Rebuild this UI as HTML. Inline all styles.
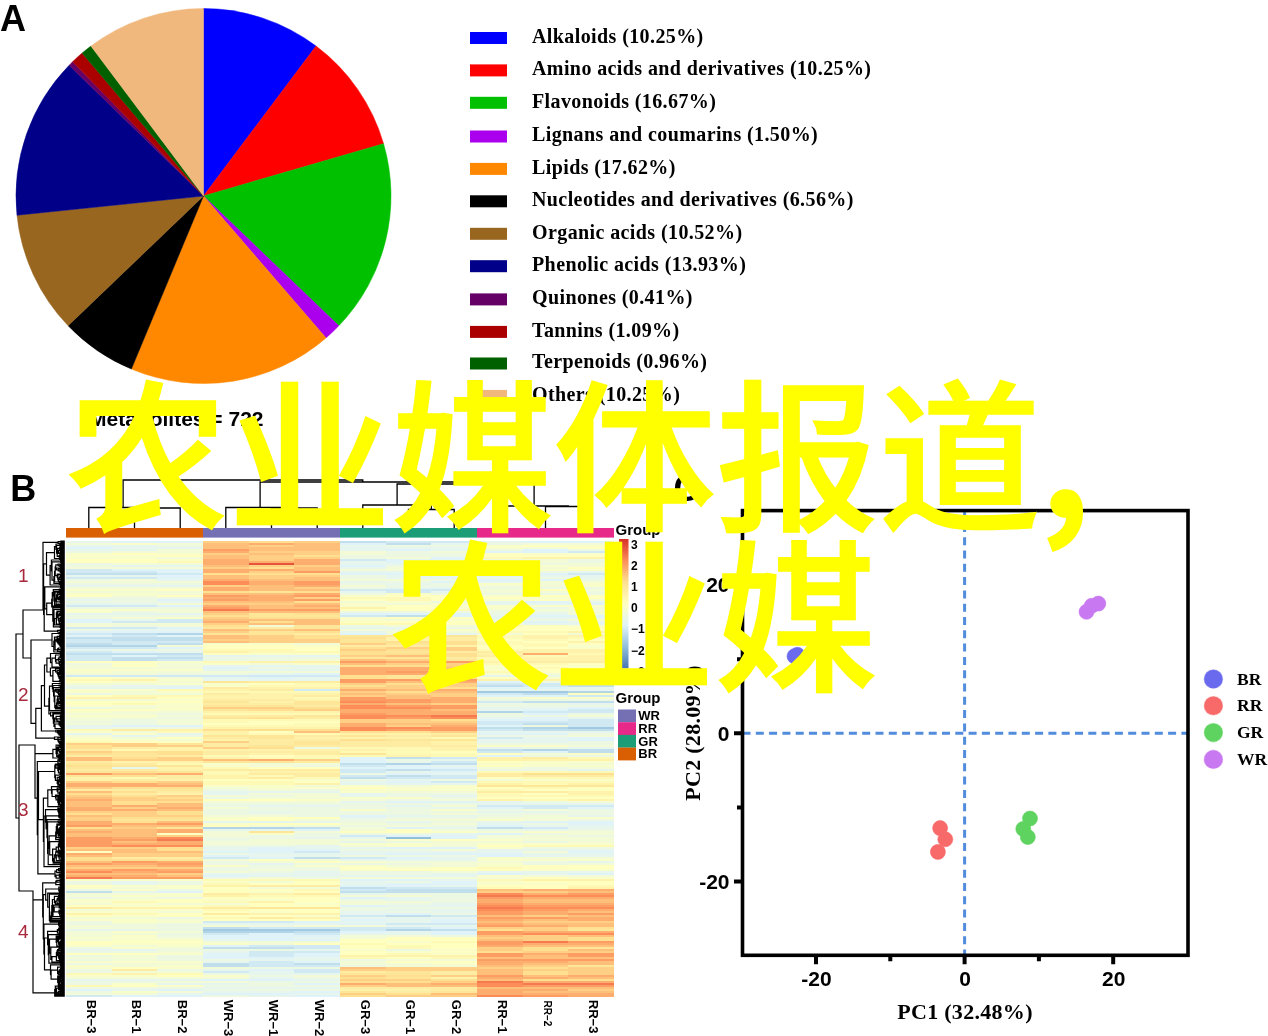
<!DOCTYPE html>
<html lang="zh"><head><meta charset="utf-8"><title>Figure</title>
<style>
html,body{margin:0;padding:0;background:#fff;}
body{width:1268px;height:1036px;overflow:hidden;position:relative;font-family:"Liberation Sans","Noto Sans CJK SC",sans-serif;}
svg{position:absolute;left:0;top:0;display:block}
.ab{font-family:"Liberation Sans",sans-serif;font-weight:bold}
.tb{font-family:"Liberation Serif",serif;font-weight:bold}
.ov{position:absolute;margin:0;white-space:nowrap;color:#ffff00;font-family:"Liberation Sans","Noto Sans CJK SC",sans-serif;font-weight:500;font-size:162.5px;line-height:160px;letter-spacing:0;-webkit-text-stroke:1.5px #ffff00}
.ov span{position:absolute;font-family:"Noto Sans CJK SC","Liberation Sans",sans-serif;font-weight:700;font-size:155px;line-height:155px}
</style></head><body>
<svg width="1268" height="1036" viewBox="0 0 1268 1036">
<rect width="1268" height="1036" fill="#fff"/>

<g id="pie">
<path d="M203.5 196L203.50 8.50A187.5 187.5 0 0 1 316.07 46.05Z" fill="#0000ff" stroke="#0000ff" stroke-width="0.5"/>
<path d="M203.5 196L316.07 46.05A187.5 187.5 0 0 1 383.55 143.67Z" fill="#ff0000" stroke="#ff0000" stroke-width="0.5"/>
<path d="M203.5 196L383.55 143.67A187.5 187.5 0 0 1 338.83 325.77Z" fill="#00c000" stroke="#00c000" stroke-width="0.5"/>
<path d="M203.5 196L338.83 325.77A187.5 187.5 0 0 1 326.02 337.93Z" fill="#aa00ee" stroke="#aa00ee" stroke-width="0.5"/>
<path d="M203.5 196L326.02 337.93A187.5 187.5 0 0 1 131.37 369.07Z" fill="#ff8800" stroke="#ff8800" stroke-width="0.5"/>
<path d="M203.5 196L131.37 369.07A187.5 187.5 0 0 1 68.09 325.69Z" fill="#000000" stroke="#000000" stroke-width="0.5"/>
<path d="M203.5 196L68.09 325.69A187.5 187.5 0 0 1 16.99 215.26Z" fill="#996620" stroke="#996620" stroke-width="0.5"/>
<path d="M203.5 196L16.99 215.26A187.5 187.5 0 0 1 69.19 65.17Z" fill="#000088" stroke="#000088" stroke-width="0.5"/>
<path d="M203.5 196L69.19 65.17A187.5 187.5 0 0 1 72.60 61.75Z" fill="#660066" stroke="#660066" stroke-width="0.5"/>
<path d="M203.5 196L72.60 61.75A187.5 187.5 0 0 1 82.10 53.11Z" fill="#aa0000" stroke="#aa0000" stroke-width="0.5"/>
<path d="M203.5 196L82.10 53.11A187.5 187.5 0 0 1 90.93 46.05Z" fill="#006000" stroke="#006000" stroke-width="0.5"/>
<path d="M203.5 196L90.93 46.05A187.5 187.5 0 0 1 203.50 8.50Z" fill="#f0b87c" stroke="#f0b87c" stroke-width="0.5"/>
</g>
<g id="pielegend" class="tb" font-size="20" fill="#000">
<rect x="470" y="32.0" width="37" height="12" fill="#0000ff"/>
<text x="532" y="42.7" letter-spacing="0.4">Alkaloids (10.25%)</text>
<rect x="470" y="64.4" width="37" height="12" fill="#ff0000"/>
<text x="532" y="75.1" letter-spacing="0.4">Amino acids and derivatives (10.25%)</text>
<rect x="470" y="96.8" width="37" height="12" fill="#00c000"/>
<text x="532" y="107.5" letter-spacing="0.4">Flavonoids (16.67%)</text>
<rect x="470" y="130.5" width="37" height="12" fill="#aa00ee"/>
<text x="532" y="141.2" letter-spacing="0.4">Lignans and coumarins (1.50%)</text>
<rect x="470" y="162.9" width="37" height="12" fill="#ff8800"/>
<text x="532" y="173.6" letter-spacing="0.4">Lipids (17.62%)</text>
<rect x="470" y="195.3" width="37" height="12" fill="#000000"/>
<text x="532" y="206.0" letter-spacing="0.4">Nucleotides and derivatives (6.56%)</text>
<rect x="470" y="227.8" width="37" height="12" fill="#996620"/>
<text x="532" y="238.5" letter-spacing="0.4">Organic acids (10.52%)</text>
<rect x="470" y="260.2" width="37" height="12" fill="#000088"/>
<text x="532" y="270.9" letter-spacing="0.4">Phenolic acids (13.93%)</text>
<rect x="470" y="293.4" width="37" height="12" fill="#660066"/>
<text x="532" y="304.1" letter-spacing="0.4">Quinones (0.41%)</text>
<rect x="470" y="325.9" width="37" height="12" fill="#aa0000"/>
<text x="532" y="336.6" letter-spacing="0.4">Tannins (1.09%)</text>
<rect x="470" y="357.5" width="37" height="12" fill="#006000"/>
<text x="532" y="368.2" letter-spacing="0.4">Terpenoids (0.96%)</text>
<rect x="470" y="389.9" width="37" height="12" fill="#f0b87c"/>
<text x="532" y="400.6" letter-spacing="0.4">Others (10.25%)</text>
</g>
<text class="ab" x="0" y="31" font-size="36">A</text>
<text class="ab" x="10.3" y="501" font-size="36">B</text>
<text class="ab" x="673.5" y="501" font-size="36">C</text>
<text class="ab" x="89" y="425.6" font-size="21">Metabolites = 722</text>
<g id="heat" shape-rendering="crispEdges">
<rect x="66.0" y="540.5" width="548.0" height="456.1" fill="#ffffc8"/>
<path fill="#e6f5ed" d="M66.0 540.5h45.7v2.05h-45.7zM477.0 540.5h45.7v2.05h-45.7zM431.3 542.5h45.7v2.05h-45.7zM66.0 544.5h45.7v2.05h-45.7zM111.7 544.5h45.7v2.05h-45.7zM340.0 544.5h45.7v2.05h-45.7zM111.7 546.5h45.7v2.05h-45.7zM157.3 546.5h45.7v2.05h-45.7zM340.0 546.5h45.7v2.05h-45.7zM385.7 546.5h45.7v2.05h-45.7zM431.3 546.5h45.7v2.05h-45.7zM66.0 548.5h45.7v2.05h-45.7zM111.7 548.5h45.7v2.05h-45.7zM340.0 548.5h45.7v2.05h-45.7zM431.3 548.5h45.7v2.05h-45.7zM340.0 560.5h45.7v2.05h-45.7zM431.3 560.5h45.7v2.05h-45.7zM340.0 562.5h45.7v2.05h-45.7zM385.7 562.5h45.7v2.05h-45.7zM111.7 564.5h45.7v2.05h-45.7zM157.3 564.5h45.7v2.05h-45.7zM431.3 564.5h45.7v2.05h-45.7zM340.0 566.5h45.7v2.05h-45.7zM340.0 570.5h45.7v2.05h-45.7zM385.7 570.5h45.7v2.05h-45.7zM477.0 570.5h45.7v2.05h-45.7zM568.3 570.5h45.7v2.05h-45.7zM477.0 572.5h45.7v2.05h-45.7zM66.0 574.5h45.7v2.05h-45.7zM111.7 574.5h45.7v2.05h-45.7zM385.7 574.5h45.7v2.05h-45.7zM431.3 574.5h45.7v2.05h-45.7zM522.7 574.5h45.7v2.05h-45.7zM568.3 574.5h45.7v2.05h-45.7zM385.7 576.5h45.7v2.05h-45.7zM431.3 576.5h45.7v2.05h-45.7zM568.3 576.5h45.7v2.05h-45.7zM157.3 578.5h45.7v2.05h-45.7zM340.0 580.5h45.7v2.05h-45.7zM477.0 580.5h45.7v2.05h-45.7zM385.7 582.5h45.7v2.05h-45.7zM66.0 584.5h45.7v2.05h-45.7zM111.7 584.5h45.7v2.05h-45.7zM157.3 584.5h45.7v2.05h-45.7zM385.7 586.5h45.7v2.05h-45.7zM431.3 586.5h45.7v2.05h-45.7zM340.0 590.5h45.7v2.05h-45.7zM431.3 590.5h45.7v2.05h-45.7zM66.0 598.5h45.7v2.05h-45.7zM157.3 600.5h45.7v2.05h-45.7zM477.0 600.5h45.7v2.05h-45.7zM568.3 600.5h45.7v2.05h-45.7zM66.0 602.5h45.7v2.05h-45.7zM111.7 602.5h45.7v2.05h-45.7zM477.0 602.5h45.7v2.05h-45.7zM522.7 602.5h45.7v2.05h-45.7zM66.0 612.5h45.7v2.05h-45.7zM111.7 612.5h45.7v2.05h-45.7zM157.3 612.5h45.7v2.05h-45.7zM522.7 612.5h45.7v2.05h-45.7zM477.0 614.5h45.7v2.05h-45.7zM477.0 616.5h45.7v2.05h-45.7zM522.7 616.5h45.7v2.05h-45.7zM568.3 616.5h45.7v2.05h-45.7zM111.7 618.5h45.7v2.05h-45.7zM477.0 620.5h45.7v2.05h-45.7zM568.3 620.5h45.7v2.05h-45.7zM522.7 622.5h45.7v2.05h-45.7zM568.3 622.5h45.7v2.05h-45.7zM340.0 626.5h45.7v2.05h-45.7zM385.7 626.5h45.7v2.05h-45.7zM111.7 628.5h45.7v2.05h-45.7zM157.3 628.5h45.7v2.05h-45.7zM340.0 630.5h45.7v2.05h-45.7zM431.3 632.5h45.7v2.05h-45.7zM66.0 648.5h45.7v2.05h-45.7zM157.3 650.5h45.7v2.05h-45.7zM203.0 654.5h45.7v2.05h-45.7zM248.7 654.5h45.7v2.05h-45.7zM294.3 654.5h45.7v2.05h-45.7zM203.0 664.5h45.7v2.05h-45.7zM248.7 664.5h45.7v2.05h-45.7zM294.3 664.5h45.7v2.05h-45.7zM294.3 666.5h45.7v2.05h-45.7zM203.0 668.5h45.7v2.05h-45.7zM248.7 668.5h45.7v2.05h-45.7zM294.3 668.5h45.7v2.05h-45.7zM248.7 672.5h45.7v2.05h-45.7zM477.0 674.5h45.7v2.05h-45.7zM568.3 674.5h45.7v2.05h-45.7zM203.0 676.5h45.7v2.05h-45.7zM294.3 676.5h45.7v2.05h-45.7zM203.0 678.5h45.7v2.05h-45.7zM248.7 678.5h45.7v2.05h-45.7zM294.3 678.5h45.7v2.05h-45.7zM111.7 684.5h45.7v2.05h-45.7zM157.3 684.5h45.7v2.05h-45.7zM66.0 686.5h45.7v2.05h-45.7zM111.7 686.5h45.7v2.05h-45.7zM568.3 686.5h45.7v2.05h-45.7zM477.0 688.5h45.7v2.05h-45.7zM522.7 688.5h45.7v2.05h-45.7zM568.3 688.5h45.7v2.05h-45.7zM568.3 702.5h45.7v2.05h-45.7zM477.0 706.5h45.7v2.05h-45.7zM522.7 706.5h45.7v2.05h-45.7zM477.0 708.5h45.7v2.05h-45.7zM477.0 716.5h45.7v2.05h-45.7zM568.3 716.5h45.7v2.05h-45.7zM66.0 724.5h45.7v2.05h-45.7zM66.0 726.5h45.7v2.05h-45.7zM477.0 730.5h45.7v2.05h-45.7zM522.7 730.5h45.7v2.05h-45.7zM568.3 730.5h45.7v2.05h-45.7zM66.0 732.5h45.7v2.05h-45.7zM157.3 732.5h45.7v2.05h-45.7zM111.7 734.5h45.7v2.05h-45.7zM522.7 736.5h45.7v2.05h-45.7zM477.0 738.5h45.7v2.05h-45.7zM522.7 738.5h45.7v2.05h-45.7zM477.0 740.5h45.7v2.05h-45.7zM522.7 740.5h45.7v2.05h-45.7zM477.0 746.5h45.7v2.05h-45.7zM568.3 746.5h45.7v2.05h-45.7zM431.3 758.5h45.7v2.05h-45.7zM385.7 760.5h45.7v2.05h-45.7zM431.3 764.5h45.7v2.05h-45.7zM111.7 766.5h45.7v2.05h-45.7zM568.3 768.6h45.7v2.05h-45.7zM385.7 770.6h45.7v2.05h-45.7zM431.3 772.6h45.7v2.05h-45.7zM385.7 778.6h45.7v2.05h-45.7zM340.0 780.6h45.7v2.05h-45.7zM340.0 782.6h45.7v2.05h-45.7zM385.7 782.6h45.7v2.05h-45.7zM431.3 782.6h45.7v2.05h-45.7zM203.0 790.6h45.7v2.05h-45.7zM248.7 790.6h45.7v2.05h-45.7zM294.3 790.6h45.7v2.05h-45.7zM203.0 792.6h45.7v2.05h-45.7zM340.0 792.6h45.7v2.05h-45.7zM340.0 794.6h45.7v2.05h-45.7zM431.3 794.6h45.7v2.05h-45.7zM340.0 800.6h45.7v2.05h-45.7zM477.0 800.6h45.7v2.05h-45.7zM477.0 802.6h45.7v2.05h-45.7zM522.7 802.6h45.7v2.05h-45.7zM568.3 802.6h45.7v2.05h-45.7zM248.7 804.6h45.7v2.05h-45.7zM294.3 804.6h45.7v2.05h-45.7zM385.7 804.6h45.7v2.05h-45.7zM431.3 806.6h45.7v2.05h-45.7zM248.7 810.6h45.7v2.05h-45.7zM477.0 810.6h45.7v2.05h-45.7zM522.7 810.6h45.7v2.05h-45.7zM385.7 814.6h45.7v2.05h-45.7zM431.3 814.6h45.7v2.05h-45.7zM568.3 814.6h45.7v2.05h-45.7zM340.0 816.6h45.7v2.05h-45.7zM203.0 820.6h45.7v2.05h-45.7zM248.7 820.6h45.7v2.05h-45.7zM294.3 820.6h45.7v2.05h-45.7zM385.7 820.6h45.7v2.05h-45.7zM477.0 820.6h45.7v2.05h-45.7zM477.0 822.6h45.7v2.05h-45.7zM522.7 824.6h45.7v2.05h-45.7zM568.3 824.6h45.7v2.05h-45.7zM431.3 826.6h45.7v2.05h-45.7zM568.3 826.6h45.7v2.05h-45.7zM203.0 828.6h45.7v2.05h-45.7zM248.7 828.6h45.7v2.05h-45.7zM522.7 828.6h45.7v2.05h-45.7zM431.3 832.6h45.7v2.05h-45.7zM294.3 836.6h45.7v2.05h-45.7zM340.0 836.6h45.7v2.05h-45.7zM340.0 840.6h45.7v2.05h-45.7zM294.3 844.6h45.7v2.05h-45.7zM203.0 846.6h45.7v2.05h-45.7zM294.3 846.6h45.7v2.05h-45.7zM340.0 846.6h45.7v2.05h-45.7zM203.0 848.6h45.7v2.05h-45.7zM477.0 848.6h45.7v2.05h-45.7zM522.7 848.6h45.7v2.05h-45.7zM568.3 848.6h45.7v2.05h-45.7zM340.0 850.6h45.7v2.05h-45.7zM385.7 850.6h45.7v2.05h-45.7zM431.3 850.6h45.7v2.05h-45.7zM477.0 850.6h45.7v2.05h-45.7zM248.7 852.6h45.7v2.05h-45.7zM294.3 852.6h45.7v2.05h-45.7zM340.0 852.6h45.7v2.05h-45.7zM522.7 852.6h45.7v2.05h-45.7zM568.3 852.6h45.7v2.05h-45.7zM248.7 854.6h45.7v2.05h-45.7zM294.3 854.6h45.7v2.05h-45.7zM522.7 854.6h45.7v2.05h-45.7zM568.3 854.6h45.7v2.05h-45.7zM431.3 856.6h45.7v2.05h-45.7zM340.0 858.6h45.7v2.05h-45.7zM385.7 858.6h45.7v2.05h-45.7zM431.3 858.6h45.7v2.05h-45.7zM568.3 860.6h45.7v2.05h-45.7zM248.7 862.6h45.7v2.05h-45.7zM294.3 870.6h45.7v2.05h-45.7zM477.0 870.6h45.7v2.05h-45.7zM522.7 870.6h45.7v2.05h-45.7zM568.3 870.6h45.7v2.05h-45.7zM203.0 872.6h45.7v2.05h-45.7zM248.7 872.6h45.7v2.05h-45.7zM294.3 872.6h45.7v2.05h-45.7zM431.3 872.6h45.7v2.05h-45.7zM522.7 872.6h45.7v2.05h-45.7zM248.7 874.6h45.7v2.05h-45.7zM294.3 874.6h45.7v2.05h-45.7zM340.0 874.6h45.7v2.05h-45.7zM385.7 874.6h45.7v2.05h-45.7zM431.3 874.6h45.7v2.05h-45.7zM431.3 878.6h45.7v2.05h-45.7zM111.7 880.6h45.7v2.05h-45.7zM340.0 880.6h45.7v2.05h-45.7zM111.7 882.6h45.7v2.05h-45.7zM340.0 882.6h45.7v2.05h-45.7zM431.3 884.6h45.7v2.05h-45.7zM111.7 890.6h45.7v2.05h-45.7zM340.0 892.6h45.7v2.05h-45.7zM385.7 896.6h45.7v2.05h-45.7zM385.7 898.6h45.7v2.05h-45.7zM431.3 902.6h45.7v2.05h-45.7zM385.7 904.6h45.7v2.05h-45.7zM431.3 904.6h45.7v2.05h-45.7zM385.7 908.6h45.7v2.05h-45.7zM431.3 908.6h45.7v2.05h-45.7zM340.0 910.6h45.7v2.05h-45.7zM431.3 910.6h45.7v2.05h-45.7zM340.0 912.6h45.7v2.05h-45.7zM340.0 916.6h45.7v2.05h-45.7zM385.7 916.6h45.7v2.05h-45.7zM431.3 916.6h45.7v2.05h-45.7zM385.7 918.6h45.7v2.05h-45.7zM340.0 920.6h45.7v2.05h-45.7zM385.7 920.6h45.7v2.05h-45.7zM203.0 922.6h45.7v2.05h-45.7zM248.7 922.6h45.7v2.05h-45.7zM294.3 922.6h45.7v2.05h-45.7zM385.7 924.6h45.7v2.05h-45.7zM431.3 924.6h45.7v2.05h-45.7zM66.0 928.6h45.7v2.05h-45.7zM111.7 928.6h45.7v2.05h-45.7zM385.7 930.6h45.7v2.05h-45.7zM340.0 932.6h45.7v2.05h-45.7zM385.7 932.6h45.7v2.05h-45.7zM294.3 936.6h45.7v2.05h-45.7zM203.0 938.6h45.7v2.05h-45.7zM66.0 948.6h45.7v2.05h-45.7zM111.7 948.6h45.7v2.05h-45.7zM294.3 948.6h45.7v2.05h-45.7zM203.0 950.6h45.7v2.05h-45.7zM294.3 956.6h45.7v2.05h-45.7zM248.7 958.6h45.7v2.05h-45.7zM294.3 958.6h45.7v2.05h-45.7zM203.0 960.6h45.7v2.05h-45.7zM203.0 968.6h45.7v2.05h-45.7zM248.7 970.6h45.7v2.05h-45.7zM248.7 972.6h45.7v2.05h-45.7zM294.3 972.6h45.7v2.05h-45.7zM248.7 976.6h45.7v2.05h-45.7zM66.0 978.6h45.7v2.05h-45.7zM111.7 978.6h45.7v2.05h-45.7zM157.3 978.6h45.7v2.05h-45.7zM294.3 978.6h45.7v2.05h-45.7zM157.3 982.6h45.7v2.05h-45.7zM203.0 982.6h45.7v2.05h-45.7zM203.0 986.6h45.7v2.05h-45.7zM248.7 986.6h45.7v2.05h-45.7zM294.3 986.6h45.7v2.05h-45.7zM111.7 988.6h45.7v2.05h-45.7zM203.0 990.6h45.7v2.05h-45.7zM248.7 990.6h45.7v2.05h-45.7zM157.3 992.6h45.7v2.05h-45.7zM294.3 992.6h45.7v2.05h-45.7zM248.7 994.6h45.7v2.05h-45.7z"/>
<path fill="#e0f3f8" d="M111.7 540.5h45.7v2.05h-45.7zM157.3 540.5h45.7v2.05h-45.7zM522.7 540.5h45.7v2.05h-45.7zM568.3 540.5h45.7v2.05h-45.7zM340.0 542.5h45.7v2.05h-45.7zM66.0 546.5h45.7v2.05h-45.7zM385.7 548.5h45.7v2.05h-45.7zM522.7 548.5h45.7v2.05h-45.7zM477.0 550.5h45.7v2.05h-45.7zM522.7 550.5h45.7v2.05h-45.7zM431.3 556.5h45.7v2.05h-45.7zM385.7 558.5h45.7v2.05h-45.7zM431.3 558.5h45.7v2.05h-45.7zM385.7 560.5h45.7v2.05h-45.7zM340.0 564.5h45.7v2.05h-45.7zM111.7 568.5h45.7v2.05h-45.7zM157.3 568.5h45.7v2.05h-45.7zM157.3 570.5h45.7v2.05h-45.7zM431.3 570.5h45.7v2.05h-45.7zM340.0 572.5h45.7v2.05h-45.7zM385.7 572.5h45.7v2.05h-45.7zM522.7 572.5h45.7v2.05h-45.7zM157.3 574.5h45.7v2.05h-45.7zM477.0 574.5h45.7v2.05h-45.7zM157.3 576.5h45.7v2.05h-45.7zM477.0 578.5h45.7v2.05h-45.7zM522.7 578.5h45.7v2.05h-45.7zM431.3 580.5h45.7v2.05h-45.7zM157.3 598.5h45.7v2.05h-45.7zM522.7 600.5h45.7v2.05h-45.7zM568.3 602.5h45.7v2.05h-45.7zM157.3 604.5h45.7v2.05h-45.7zM340.0 612.5h45.7v2.05h-45.7zM385.7 612.5h45.7v2.05h-45.7zM431.3 612.5h45.7v2.05h-45.7zM431.3 614.5h45.7v2.05h-45.7zM522.7 614.5h45.7v2.05h-45.7zM568.3 614.5h45.7v2.05h-45.7zM66.0 618.5h45.7v2.05h-45.7zM66.0 620.5h45.7v2.05h-45.7zM522.7 620.5h45.7v2.05h-45.7zM157.3 626.5h45.7v2.05h-45.7zM66.0 630.5h45.7v2.05h-45.7zM111.7 630.5h45.7v2.05h-45.7zM157.3 630.5h45.7v2.05h-45.7zM340.0 632.5h45.7v2.05h-45.7zM66.0 634.5h45.7v2.05h-45.7zM157.3 634.5h45.7v2.05h-45.7zM157.3 646.5h45.7v2.05h-45.7zM111.7 650.5h45.7v2.05h-45.7zM111.7 654.5h45.7v2.05h-45.7zM203.0 666.5h45.7v2.05h-45.7zM294.3 672.5h45.7v2.05h-45.7zM248.7 676.5h45.7v2.05h-45.7zM477.0 680.5h45.7v2.05h-45.7zM568.3 680.5h45.7v2.05h-45.7zM568.3 682.5h45.7v2.05h-45.7zM157.3 686.5h45.7v2.05h-45.7zM477.0 686.5h45.7v2.05h-45.7zM522.7 686.5h45.7v2.05h-45.7zM477.0 694.5h45.7v2.05h-45.7zM522.7 694.5h45.7v2.05h-45.7zM568.3 706.5h45.7v2.05h-45.7zM522.7 708.5h45.7v2.05h-45.7zM522.7 712.5h45.7v2.05h-45.7zM522.7 716.5h45.7v2.05h-45.7zM477.0 718.5h45.7v2.05h-45.7zM522.7 718.5h45.7v2.05h-45.7zM111.7 724.5h45.7v2.05h-45.7zM157.3 724.5h45.7v2.05h-45.7zM477.0 724.5h45.7v2.05h-45.7zM477.0 732.5h45.7v2.05h-45.7zM522.7 732.5h45.7v2.05h-45.7zM568.3 736.5h45.7v2.05h-45.7zM568.3 738.5h45.7v2.05h-45.7zM522.7 750.5h45.7v2.05h-45.7zM477.0 754.5h45.7v2.05h-45.7zM340.0 756.5h45.7v2.05h-45.7zM340.0 758.5h45.7v2.05h-45.7zM340.0 760.5h45.7v2.05h-45.7zM385.7 764.5h45.7v2.05h-45.7zM340.0 766.5h45.7v2.05h-45.7zM385.7 766.5h45.7v2.05h-45.7zM431.3 766.5h45.7v2.05h-45.7zM431.3 770.6h45.7v2.05h-45.7zM385.7 772.6h45.7v2.05h-45.7zM385.7 780.6h45.7v2.05h-45.7zM385.7 800.6h45.7v2.05h-45.7zM431.3 800.6h45.7v2.05h-45.7zM477.0 806.6h45.7v2.05h-45.7zM568.3 806.6h45.7v2.05h-45.7zM340.0 814.6h45.7v2.05h-45.7zM522.7 820.6h45.7v2.05h-45.7zM568.3 820.6h45.7v2.05h-45.7zM568.3 822.6h45.7v2.05h-45.7zM477.0 824.6h45.7v2.05h-45.7zM385.7 826.6h45.7v2.05h-45.7zM294.3 828.6h45.7v2.05h-45.7zM477.0 832.6h45.7v2.05h-45.7zM385.7 834.6h45.7v2.05h-45.7zM431.3 834.6h45.7v2.05h-45.7zM431.3 836.6h45.7v2.05h-45.7zM248.7 846.6h45.7v2.05h-45.7zM385.7 846.6h45.7v2.05h-45.7zM431.3 846.6h45.7v2.05h-45.7zM248.7 848.6h45.7v2.05h-45.7zM294.3 848.6h45.7v2.05h-45.7zM203.0 850.6h45.7v2.05h-45.7zM248.7 850.6h45.7v2.05h-45.7zM568.3 850.6h45.7v2.05h-45.7zM385.7 852.6h45.7v2.05h-45.7zM431.3 852.6h45.7v2.05h-45.7zM477.0 852.6h45.7v2.05h-45.7zM203.0 854.6h45.7v2.05h-45.7zM477.0 854.6h45.7v2.05h-45.7zM248.7 856.6h45.7v2.05h-45.7zM385.7 856.6h45.7v2.05h-45.7zM477.0 872.6h45.7v2.05h-45.7zM568.3 872.6h45.7v2.05h-45.7zM203.0 874.6h45.7v2.05h-45.7zM340.0 878.6h45.7v2.05h-45.7zM385.7 878.6h45.7v2.05h-45.7zM431.3 880.6h45.7v2.05h-45.7zM385.7 882.6h45.7v2.05h-45.7zM431.3 882.6h45.7v2.05h-45.7zM340.0 884.6h45.7v2.05h-45.7zM385.7 884.6h45.7v2.05h-45.7zM157.3 890.6h45.7v2.05h-45.7zM340.0 896.6h45.7v2.05h-45.7zM340.0 904.6h45.7v2.05h-45.7zM385.7 912.6h45.7v2.05h-45.7zM340.0 918.6h45.7v2.05h-45.7zM431.3 918.6h45.7v2.05h-45.7zM294.3 920.6h45.7v2.05h-45.7zM431.3 920.6h45.7v2.05h-45.7zM340.0 922.6h45.7v2.05h-45.7zM431.3 926.6h45.7v2.05h-45.7zM340.0 930.6h45.7v2.05h-45.7zM431.3 930.6h45.7v2.05h-45.7zM248.7 932.6h45.7v2.05h-45.7zM431.3 932.6h45.7v2.05h-45.7zM203.0 934.6h45.7v2.05h-45.7zM248.7 934.6h45.7v2.05h-45.7zM294.3 934.6h45.7v2.05h-45.7zM203.0 936.6h45.7v2.05h-45.7zM248.7 936.6h45.7v2.05h-45.7zM248.7 938.6h45.7v2.05h-45.7zM294.3 938.6h45.7v2.05h-45.7zM203.0 944.6h45.7v2.05h-45.7zM203.0 952.6h45.7v2.05h-45.7zM294.3 952.6h45.7v2.05h-45.7zM203.0 954.6h45.7v2.05h-45.7zM294.3 954.6h45.7v2.05h-45.7zM203.0 956.6h45.7v2.05h-45.7zM248.7 956.6h45.7v2.05h-45.7zM294.3 960.6h45.7v2.05h-45.7zM248.7 968.6h45.7v2.05h-45.7zM203.0 978.6h45.7v2.05h-45.7zM248.7 978.6h45.7v2.05h-45.7zM294.3 982.6h45.7v2.05h-45.7zM66.0 988.6h45.7v2.05h-45.7zM157.3 988.6h45.7v2.05h-45.7zM294.3 990.6h45.7v2.05h-45.7zM203.0 992.6h45.7v2.05h-45.7zM248.7 992.6h45.7v2.05h-45.7zM111.7 994.6h45.7v2.05h-45.7zM157.3 994.6h45.7v2.05h-45.7zM294.3 994.6h45.7v2.05h-45.7z"/>
<path fill="#fecf85" d="M203.0 540.5h45.7v2.05h-45.7zM294.3 540.5h45.7v2.05h-45.7zM248.7 544.5h45.7v2.05h-45.7zM248.7 550.5h45.7v2.05h-45.7zM294.3 550.5h45.7v2.05h-45.7zM203.0 552.5h45.7v2.05h-45.7zM294.3 552.5h45.7v2.05h-45.7zM248.7 554.5h45.7v2.05h-45.7zM248.7 556.5h45.7v2.05h-45.7zM294.3 556.5h45.7v2.05h-45.7zM248.7 558.5h45.7v2.05h-45.7zM248.7 564.5h45.7v2.05h-45.7zM294.3 564.5h45.7v2.05h-45.7zM203.0 566.5h45.7v2.05h-45.7zM248.7 570.5h45.7v2.05h-45.7zM248.7 574.5h45.7v2.05h-45.7zM294.3 574.5h45.7v2.05h-45.7zM248.7 576.5h45.7v2.05h-45.7zM203.0 584.5h45.7v2.05h-45.7zM294.3 586.5h45.7v2.05h-45.7zM294.3 596.5h45.7v2.05h-45.7zM203.0 602.5h45.7v2.05h-45.7zM248.7 602.5h45.7v2.05h-45.7zM203.0 612.5h45.7v2.05h-45.7zM203.0 616.5h45.7v2.05h-45.7zM203.0 622.5h45.7v2.05h-45.7zM248.7 628.5h45.7v2.05h-45.7zM203.0 630.5h45.7v2.05h-45.7zM248.7 634.5h45.7v2.05h-45.7zM248.7 636.5h45.7v2.05h-45.7zM203.0 638.5h45.7v2.05h-45.7zM248.7 638.5h45.7v2.05h-45.7zM294.3 638.5h45.7v2.05h-45.7zM248.7 640.5h45.7v2.05h-45.7zM294.3 640.5h45.7v2.05h-45.7zM340.0 642.5h45.7v2.05h-45.7zM385.7 646.5h45.7v2.05h-45.7zM431.3 646.5h45.7v2.05h-45.7zM340.0 648.5h45.7v2.05h-45.7zM431.3 648.5h45.7v2.05h-45.7zM340.0 654.5h45.7v2.05h-45.7zM385.7 658.5h45.7v2.05h-45.7zM385.7 662.5h45.7v2.05h-45.7zM431.3 662.5h45.7v2.05h-45.7zM431.3 664.5h45.7v2.05h-45.7zM340.0 682.5h45.7v2.05h-45.7zM431.3 682.5h45.7v2.05h-45.7zM385.7 684.5h45.7v2.05h-45.7zM431.3 684.5h45.7v2.05h-45.7zM340.0 686.5h45.7v2.05h-45.7zM385.7 686.5h45.7v2.05h-45.7zM340.0 690.5h45.7v2.05h-45.7zM385.7 692.5h45.7v2.05h-45.7zM431.3 692.5h45.7v2.05h-45.7zM340.0 694.5h45.7v2.05h-45.7zM431.3 694.5h45.7v2.05h-45.7zM431.3 702.5h45.7v2.05h-45.7zM203.0 706.5h45.7v2.05h-45.7zM248.7 706.5h45.7v2.05h-45.7zM294.3 708.5h45.7v2.05h-45.7zM340.0 718.5h45.7v2.05h-45.7zM385.7 718.5h45.7v2.05h-45.7zM340.0 720.5h45.7v2.05h-45.7zM385.7 720.5h45.7v2.05h-45.7zM431.3 720.5h45.7v2.05h-45.7zM385.7 724.5h45.7v2.05h-45.7zM431.3 730.5h45.7v2.05h-45.7zM203.0 740.5h45.7v2.05h-45.7zM66.0 742.5h45.7v2.05h-45.7zM111.7 742.5h45.7v2.05h-45.7zM111.7 744.5h45.7v2.05h-45.7zM157.3 744.5h45.7v2.05h-45.7zM203.0 746.5h45.7v2.05h-45.7zM66.0 750.5h45.7v2.05h-45.7zM157.3 756.5h45.7v2.05h-45.7zM111.7 758.5h45.7v2.05h-45.7zM157.3 758.5h45.7v2.05h-45.7zM294.3 758.5h45.7v2.05h-45.7zM66.0 780.6h45.7v2.05h-45.7zM157.3 780.6h45.7v2.05h-45.7zM66.0 786.6h45.7v2.05h-45.7zM66.0 794.6h45.7v2.05h-45.7zM157.3 794.6h45.7v2.05h-45.7zM111.7 796.6h45.7v2.05h-45.7zM111.7 798.6h45.7v2.05h-45.7zM157.3 798.6h45.7v2.05h-45.7zM111.7 806.6h45.7v2.05h-45.7zM66.0 810.6h45.7v2.05h-45.7zM111.7 810.6h45.7v2.05h-45.7zM111.7 812.6h45.7v2.05h-45.7zM111.7 814.6h45.7v2.05h-45.7zM157.3 814.6h45.7v2.05h-45.7zM66.0 816.6h45.7v2.05h-45.7zM66.0 818.6h45.7v2.05h-45.7zM111.7 826.6h45.7v2.05h-45.7zM157.3 834.6h45.7v2.05h-45.7zM66.0 846.6h45.7v2.05h-45.7zM111.7 846.6h45.7v2.05h-45.7zM111.7 852.6h45.7v2.05h-45.7zM157.3 852.6h45.7v2.05h-45.7zM111.7 854.6h45.7v2.05h-45.7zM157.3 854.6h45.7v2.05h-45.7zM66.0 866.6h45.7v2.05h-45.7zM111.7 866.6h45.7v2.05h-45.7zM157.3 866.6h45.7v2.05h-45.7zM157.3 872.6h45.7v2.05h-45.7zM477.0 890.6h45.7v2.05h-45.7zM522.7 890.6h45.7v2.05h-45.7zM522.7 914.6h45.7v2.05h-45.7zM522.7 920.6h45.7v2.05h-45.7zM568.3 920.6h45.7v2.05h-45.7zM477.0 926.6h45.7v2.05h-45.7zM522.7 926.6h45.7v2.05h-45.7zM522.7 928.6h45.7v2.05h-45.7zM522.7 934.6h45.7v2.05h-45.7zM477.0 936.6h45.7v2.05h-45.7zM522.7 936.6h45.7v2.05h-45.7zM522.7 938.6h45.7v2.05h-45.7zM477.0 946.6h45.7v2.05h-45.7zM477.0 948.6h45.7v2.05h-45.7zM522.7 950.6h45.7v2.05h-45.7zM568.3 950.6h45.7v2.05h-45.7zM522.7 964.6h45.7v2.05h-45.7zM385.7 966.6h45.7v2.05h-45.7zM431.3 966.6h45.7v2.05h-45.7zM477.0 966.6h45.7v2.05h-45.7zM568.3 966.6h45.7v2.05h-45.7zM340.0 968.6h45.7v2.05h-45.7zM385.7 968.6h45.7v2.05h-45.7zM431.3 968.6h45.7v2.05h-45.7zM522.7 968.6h45.7v2.05h-45.7zM568.3 968.6h45.7v2.05h-45.7zM568.3 970.6h45.7v2.05h-45.7zM568.3 972.6h45.7v2.05h-45.7zM340.0 974.6h45.7v2.05h-45.7zM431.3 974.6h45.7v2.05h-45.7zM340.0 978.6h45.7v2.05h-45.7zM385.7 978.6h45.7v2.05h-45.7zM431.3 980.6h45.7v2.05h-45.7zM340.0 984.6h45.7v2.05h-45.7zM568.3 988.6h45.7v2.05h-45.7zM340.0 992.6h45.7v2.05h-45.7zM385.7 994.6h45.7v2.05h-45.7zM431.3 994.6h45.7v2.05h-45.7z"/>
<path fill="#fee090" d="M248.7 540.5h45.7v2.05h-45.7zM294.3 554.5h45.7v2.05h-45.7zM248.7 566.5h45.7v2.05h-45.7zM203.0 572.5h45.7v2.05h-45.7zM248.7 572.5h45.7v2.05h-45.7zM294.3 572.5h45.7v2.05h-45.7zM203.0 590.5h45.7v2.05h-45.7zM294.3 590.5h45.7v2.05h-45.7zM294.3 600.5h45.7v2.05h-45.7zM294.3 612.5h45.7v2.05h-45.7zM203.0 614.5h45.7v2.05h-45.7zM248.7 616.5h45.7v2.05h-45.7zM294.3 616.5h45.7v2.05h-45.7zM248.7 620.5h45.7v2.05h-45.7zM203.0 624.5h45.7v2.05h-45.7zM294.3 630.5h45.7v2.05h-45.7zM294.3 634.5h45.7v2.05h-45.7zM294.3 636.5h45.7v2.05h-45.7zM340.0 636.5h45.7v2.05h-45.7zM385.7 640.5h45.7v2.05h-45.7zM431.3 640.5h45.7v2.05h-45.7zM431.3 642.5h45.7v2.05h-45.7zM340.0 646.5h45.7v2.05h-45.7zM385.7 648.5h45.7v2.05h-45.7zM340.0 650.5h45.7v2.05h-45.7zM340.0 652.5h45.7v2.05h-45.7zM385.7 652.5h45.7v2.05h-45.7zM431.3 652.5h45.7v2.05h-45.7zM431.3 654.5h45.7v2.05h-45.7zM340.0 664.5h45.7v2.05h-45.7zM385.7 664.5h45.7v2.05h-45.7zM340.0 674.5h45.7v2.05h-45.7zM340.0 676.5h45.7v2.05h-45.7zM431.3 676.5h45.7v2.05h-45.7zM385.7 682.5h45.7v2.05h-45.7zM340.0 684.5h45.7v2.05h-45.7zM431.3 686.5h45.7v2.05h-45.7zM385.7 690.5h45.7v2.05h-45.7zM294.3 706.5h45.7v2.05h-45.7zM248.7 708.5h45.7v2.05h-45.7zM248.7 716.5h45.7v2.05h-45.7zM431.3 718.5h45.7v2.05h-45.7zM203.0 728.5h45.7v2.05h-45.7zM248.7 728.5h45.7v2.05h-45.7zM294.3 728.5h45.7v2.05h-45.7zM340.0 730.5h45.7v2.05h-45.7zM385.7 730.5h45.7v2.05h-45.7zM340.0 738.5h45.7v2.05h-45.7zM66.0 744.5h45.7v2.05h-45.7zM66.0 746.5h45.7v2.05h-45.7zM248.7 746.5h45.7v2.05h-45.7zM111.7 750.5h45.7v2.05h-45.7zM157.3 750.5h45.7v2.05h-45.7zM66.0 752.5h45.7v2.05h-45.7zM157.3 752.5h45.7v2.05h-45.7zM111.7 756.5h45.7v2.05h-45.7zM66.0 764.5h45.7v2.05h-45.7zM111.7 770.6h45.7v2.05h-45.7zM522.7 772.6h45.7v2.05h-45.7zM568.3 772.6h45.7v2.05h-45.7zM111.7 774.6h45.7v2.05h-45.7zM111.7 780.6h45.7v2.05h-45.7zM111.7 786.6h45.7v2.05h-45.7zM157.3 786.6h45.7v2.05h-45.7zM111.7 790.6h45.7v2.05h-45.7zM66.0 792.6h45.7v2.05h-45.7zM111.7 794.6h45.7v2.05h-45.7zM157.3 796.6h45.7v2.05h-45.7zM111.7 800.6h45.7v2.05h-45.7zM157.3 800.6h45.7v2.05h-45.7zM111.7 802.6h45.7v2.05h-45.7zM157.3 810.6h45.7v2.05h-45.7zM66.0 812.6h45.7v2.05h-45.7zM157.3 812.6h45.7v2.05h-45.7zM111.7 816.6h45.7v2.05h-45.7zM157.3 816.6h45.7v2.05h-45.7zM111.7 820.6h45.7v2.05h-45.7zM66.0 826.6h45.7v2.05h-45.7zM157.3 846.6h45.7v2.05h-45.7zM157.3 848.6h45.7v2.05h-45.7zM66.0 856.6h45.7v2.05h-45.7zM66.0 858.6h45.7v2.05h-45.7zM111.7 858.6h45.7v2.05h-45.7zM568.3 926.6h45.7v2.05h-45.7zM477.0 928.6h45.7v2.05h-45.7zM568.3 936.6h45.7v2.05h-45.7zM568.3 938.6h45.7v2.05h-45.7zM522.7 946.6h45.7v2.05h-45.7zM522.7 948.6h45.7v2.05h-45.7zM477.0 950.6h45.7v2.05h-45.7zM522.7 966.6h45.7v2.05h-45.7zM522.7 970.6h45.7v2.05h-45.7zM522.7 972.6h45.7v2.05h-45.7zM385.7 974.6h45.7v2.05h-45.7zM340.0 976.6h45.7v2.05h-45.7zM431.3 978.6h45.7v2.05h-45.7zM522.7 978.6h45.7v2.05h-45.7zM568.3 978.6h45.7v2.05h-45.7zM340.0 980.6h45.7v2.05h-45.7zM385.7 980.6h45.7v2.05h-45.7zM385.7 992.6h45.7v2.05h-45.7zM340.0 994.6h45.7v2.05h-45.7z"/>
<path fill="#c0deec" d="M340.0 540.5h45.7v2.05h-45.7zM385.7 542.5h45.7v2.05h-45.7zM66.0 572.5h45.7v2.05h-45.7zM111.7 572.5h45.7v2.05h-45.7zM385.7 614.5h45.7v2.05h-45.7zM111.7 632.5h45.7v2.05h-45.7zM66.0 636.5h45.7v2.05h-45.7zM111.7 636.5h45.7v2.05h-45.7zM157.3 636.5h45.7v2.05h-45.7zM111.7 638.5h45.7v2.05h-45.7zM157.3 638.5h45.7v2.05h-45.7zM66.0 642.5h45.7v2.05h-45.7zM157.3 642.5h45.7v2.05h-45.7zM66.0 652.5h45.7v2.05h-45.7zM111.7 652.5h45.7v2.05h-45.7zM157.3 652.5h45.7v2.05h-45.7zM111.7 656.5h45.7v2.05h-45.7zM157.3 656.5h45.7v2.05h-45.7zM111.7 658.5h45.7v2.05h-45.7zM477.0 684.5h45.7v2.05h-45.7zM568.3 684.5h45.7v2.05h-45.7zM522.7 692.5h45.7v2.05h-45.7zM522.7 700.5h45.7v2.05h-45.7zM568.3 700.5h45.7v2.05h-45.7zM522.7 722.5h45.7v2.05h-45.7zM477.0 726.5h45.7v2.05h-45.7zM522.7 728.5h45.7v2.05h-45.7zM568.3 728.5h45.7v2.05h-45.7zM477.0 748.5h45.7v2.05h-45.7zM568.3 748.5h45.7v2.05h-45.7zM568.3 750.5h45.7v2.05h-45.7zM385.7 756.5h45.7v2.05h-45.7zM340.0 762.5h45.7v2.05h-45.7zM431.3 762.5h45.7v2.05h-45.7zM385.7 768.6h45.7v2.05h-45.7zM385.7 774.6h45.7v2.05h-45.7zM340.0 776.6h45.7v2.05h-45.7zM294.3 826.6h45.7v2.05h-45.7zM477.0 826.6h45.7v2.05h-45.7zM294.3 856.6h45.7v2.05h-45.7zM340.0 886.6h45.7v2.05h-45.7zM385.7 888.6h45.7v2.05h-45.7zM431.3 888.6h45.7v2.05h-45.7zM66.0 890.6h45.7v2.05h-45.7zM340.0 890.6h45.7v2.05h-45.7zM385.7 890.6h45.7v2.05h-45.7zM431.3 890.6h45.7v2.05h-45.7zM385.7 914.6h45.7v2.05h-45.7zM203.0 926.6h45.7v2.05h-45.7zM431.3 928.6h45.7v2.05h-45.7zM294.3 930.6h45.7v2.05h-45.7zM203.0 946.6h45.7v2.05h-45.7zM248.7 946.6h45.7v2.05h-45.7zM203.0 962.6h45.7v2.05h-45.7zM294.3 962.6h45.7v2.05h-45.7zM203.0 964.6h45.7v2.05h-45.7z"/>
<path fill="#d0e9f2" d="M385.7 540.5h45.7v2.05h-45.7zM431.3 540.5h45.7v2.05h-45.7zM568.3 550.5h45.7v2.05h-45.7zM340.0 558.5h45.7v2.05h-45.7zM66.0 568.5h45.7v2.05h-45.7zM66.0 570.5h45.7v2.05h-45.7zM111.7 570.5h45.7v2.05h-45.7zM157.3 572.5h45.7v2.05h-45.7zM568.3 572.5h45.7v2.05h-45.7zM66.0 576.5h45.7v2.05h-45.7zM111.7 576.5h45.7v2.05h-45.7zM340.0 588.5h45.7v2.05h-45.7zM385.7 588.5h45.7v2.05h-45.7zM431.3 588.5h45.7v2.05h-45.7zM385.7 590.5h45.7v2.05h-45.7zM66.0 604.5h45.7v2.05h-45.7zM111.7 604.5h45.7v2.05h-45.7zM340.0 614.5h45.7v2.05h-45.7zM157.3 618.5h45.7v2.05h-45.7zM111.7 620.5h45.7v2.05h-45.7zM157.3 620.5h45.7v2.05h-45.7zM66.0 626.5h45.7v2.05h-45.7zM111.7 626.5h45.7v2.05h-45.7zM66.0 632.5h45.7v2.05h-45.7zM111.7 634.5h45.7v2.05h-45.7zM66.0 638.5h45.7v2.05h-45.7zM66.0 640.5h45.7v2.05h-45.7zM111.7 640.5h45.7v2.05h-45.7zM157.3 640.5h45.7v2.05h-45.7zM111.7 642.5h45.7v2.05h-45.7zM66.0 646.5h45.7v2.05h-45.7zM111.7 646.5h45.7v2.05h-45.7zM66.0 650.5h45.7v2.05h-45.7zM66.0 654.5h45.7v2.05h-45.7zM157.3 654.5h45.7v2.05h-45.7zM66.0 656.5h45.7v2.05h-45.7zM66.0 658.5h45.7v2.05h-45.7zM157.3 658.5h45.7v2.05h-45.7zM66.0 674.5h45.7v2.05h-45.7zM111.7 674.5h45.7v2.05h-45.7zM157.3 674.5h45.7v2.05h-45.7zM203.0 674.5h45.7v2.05h-45.7zM248.7 674.5h45.7v2.05h-45.7zM294.3 674.5h45.7v2.05h-45.7zM477.0 682.5h45.7v2.05h-45.7zM522.7 682.5h45.7v2.05h-45.7zM522.7 684.5h45.7v2.05h-45.7zM294.3 688.5h45.7v2.05h-45.7zM477.0 692.5h45.7v2.05h-45.7zM568.3 694.5h45.7v2.05h-45.7zM477.0 700.5h45.7v2.05h-45.7zM568.3 708.5h45.7v2.05h-45.7zM522.7 710.5h45.7v2.05h-45.7zM568.3 710.5h45.7v2.05h-45.7zM568.3 718.5h45.7v2.05h-45.7zM477.0 720.5h45.7v2.05h-45.7zM522.7 720.5h45.7v2.05h-45.7zM568.3 720.5h45.7v2.05h-45.7zM477.0 722.5h45.7v2.05h-45.7zM568.3 722.5h45.7v2.05h-45.7zM568.3 724.5h45.7v2.05h-45.7zM477.0 728.5h45.7v2.05h-45.7zM477.0 736.5h45.7v2.05h-45.7zM477.0 750.5h45.7v2.05h-45.7zM431.3 756.5h45.7v2.05h-45.7zM431.3 760.5h45.7v2.05h-45.7zM340.0 764.5h45.7v2.05h-45.7zM340.0 768.6h45.7v2.05h-45.7zM431.3 768.6h45.7v2.05h-45.7zM340.0 770.6h45.7v2.05h-45.7zM340.0 774.6h45.7v2.05h-45.7zM431.3 774.6h45.7v2.05h-45.7zM385.7 776.6h45.7v2.05h-45.7zM431.3 776.6h45.7v2.05h-45.7zM431.3 780.6h45.7v2.05h-45.7zM477.0 804.6h45.7v2.05h-45.7zM522.7 804.6h45.7v2.05h-45.7zM568.3 804.6h45.7v2.05h-45.7zM522.7 806.6h45.7v2.05h-45.7zM522.7 826.6h45.7v2.05h-45.7zM340.0 834.6h45.7v2.05h-45.7zM294.3 850.6h45.7v2.05h-45.7zM203.0 856.6h45.7v2.05h-45.7zM340.0 856.6h45.7v2.05h-45.7zM385.7 886.6h45.7v2.05h-45.7zM431.3 886.6h45.7v2.05h-45.7zM340.0 888.6h45.7v2.05h-45.7zM340.0 914.6h45.7v2.05h-45.7zM431.3 914.6h45.7v2.05h-45.7zM203.0 920.6h45.7v2.05h-45.7zM248.7 920.6h45.7v2.05h-45.7zM385.7 922.6h45.7v2.05h-45.7zM431.3 922.6h45.7v2.05h-45.7zM248.7 926.6h45.7v2.05h-45.7zM294.3 926.6h45.7v2.05h-45.7zM340.0 926.6h45.7v2.05h-45.7zM385.7 926.6h45.7v2.05h-45.7zM340.0 928.6h45.7v2.05h-45.7zM203.0 932.6h45.7v2.05h-45.7zM294.3 932.6h45.7v2.05h-45.7zM248.7 944.6h45.7v2.05h-45.7zM294.3 944.6h45.7v2.05h-45.7zM294.3 946.6h45.7v2.05h-45.7zM248.7 950.6h45.7v2.05h-45.7zM294.3 950.6h45.7v2.05h-45.7zM248.7 952.6h45.7v2.05h-45.7zM248.7 954.6h45.7v2.05h-45.7zM248.7 960.6h45.7v2.05h-45.7zM248.7 962.6h45.7v2.05h-45.7zM248.7 964.6h45.7v2.05h-45.7zM294.3 964.6h45.7v2.05h-45.7zM294.3 968.6h45.7v2.05h-45.7zM203.0 970.6h45.7v2.05h-45.7zM294.3 970.6h45.7v2.05h-45.7zM66.0 994.6h45.7v2.05h-45.7z"/>
<path fill="#f3fad6" d="M66.0 542.5h45.7v2.05h-45.7zM157.3 542.5h45.7v2.05h-45.7zM522.7 542.5h45.7v2.05h-45.7zM568.3 542.5h45.7v2.05h-45.7zM522.7 546.5h45.7v2.05h-45.7zM157.3 548.5h45.7v2.05h-45.7zM111.7 550.5h45.7v2.05h-45.7zM157.3 550.5h45.7v2.05h-45.7zM340.0 550.5h45.7v2.05h-45.7zM431.3 550.5h45.7v2.05h-45.7zM340.0 552.5h45.7v2.05h-45.7zM157.3 556.5h45.7v2.05h-45.7zM385.7 556.5h45.7v2.05h-45.7zM522.7 558.5h45.7v2.05h-45.7zM522.7 560.5h45.7v2.05h-45.7zM111.7 562.5h45.7v2.05h-45.7zM157.3 562.5h45.7v2.05h-45.7zM477.0 562.5h45.7v2.05h-45.7zM568.3 562.5h45.7v2.05h-45.7zM568.3 564.5h45.7v2.05h-45.7zM66.0 566.5h45.7v2.05h-45.7zM111.7 566.5h45.7v2.05h-45.7zM157.3 566.5h45.7v2.05h-45.7zM385.7 566.5h45.7v2.05h-45.7zM431.3 566.5h45.7v2.05h-45.7zM522.7 566.5h45.7v2.05h-45.7zM340.0 568.5h45.7v2.05h-45.7zM385.7 568.5h45.7v2.05h-45.7zM111.7 578.5h45.7v2.05h-45.7zM340.0 578.5h45.7v2.05h-45.7zM385.7 578.5h45.7v2.05h-45.7zM66.0 580.5h45.7v2.05h-45.7zM111.7 580.5h45.7v2.05h-45.7zM157.3 580.5h45.7v2.05h-45.7zM522.7 580.5h45.7v2.05h-45.7zM568.3 580.5h45.7v2.05h-45.7zM522.7 582.5h45.7v2.05h-45.7zM340.0 584.5h45.7v2.05h-45.7zM477.0 584.5h45.7v2.05h-45.7zM522.7 584.5h45.7v2.05h-45.7zM66.0 586.5h45.7v2.05h-45.7zM111.7 586.5h45.7v2.05h-45.7zM157.3 586.5h45.7v2.05h-45.7zM477.0 588.5h45.7v2.05h-45.7zM568.3 588.5h45.7v2.05h-45.7zM66.0 590.5h45.7v2.05h-45.7zM111.7 590.5h45.7v2.05h-45.7zM157.3 590.5h45.7v2.05h-45.7zM477.0 590.5h45.7v2.05h-45.7zM522.7 590.5h45.7v2.05h-45.7zM157.3 592.5h45.7v2.05h-45.7zM111.7 594.5h45.7v2.05h-45.7zM568.3 598.5h45.7v2.05h-45.7zM340.0 600.5h45.7v2.05h-45.7zM157.3 602.5h45.7v2.05h-45.7zM385.7 602.5h45.7v2.05h-45.7zM568.3 606.5h45.7v2.05h-45.7zM157.3 608.5h45.7v2.05h-45.7zM477.0 608.5h45.7v2.05h-45.7zM522.7 608.5h45.7v2.05h-45.7zM568.3 608.5h45.7v2.05h-45.7zM157.3 610.5h45.7v2.05h-45.7zM568.3 610.5h45.7v2.05h-45.7zM568.3 612.5h45.7v2.05h-45.7zM111.7 616.5h45.7v2.05h-45.7zM385.7 618.5h45.7v2.05h-45.7zM568.3 618.5h45.7v2.05h-45.7zM66.0 622.5h45.7v2.05h-45.7zM111.7 622.5h45.7v2.05h-45.7zM157.3 622.5h45.7v2.05h-45.7zM477.0 622.5h45.7v2.05h-45.7zM66.0 624.5h45.7v2.05h-45.7zM157.3 624.5h45.7v2.05h-45.7zM248.7 624.5h45.7v2.05h-45.7zM385.7 624.5h45.7v2.05h-45.7zM431.3 624.5h45.7v2.05h-45.7zM340.0 628.5h45.7v2.05h-45.7zM385.7 630.5h45.7v2.05h-45.7zM431.3 630.5h45.7v2.05h-45.7zM477.0 632.5h45.7v2.05h-45.7zM568.3 632.5h45.7v2.05h-45.7zM294.3 642.5h45.7v2.05h-45.7zM157.3 644.5h45.7v2.05h-45.7zM294.3 658.5h45.7v2.05h-45.7zM157.3 662.5h45.7v2.05h-45.7zM248.7 662.5h45.7v2.05h-45.7zM66.0 664.5h45.7v2.05h-45.7zM157.3 664.5h45.7v2.05h-45.7zM66.0 666.5h45.7v2.05h-45.7zM111.7 666.5h45.7v2.05h-45.7zM157.3 666.5h45.7v2.05h-45.7zM111.7 670.5h45.7v2.05h-45.7zM157.3 670.5h45.7v2.05h-45.7zM203.0 670.5h45.7v2.05h-45.7zM248.7 670.5h45.7v2.05h-45.7zM294.3 670.5h45.7v2.05h-45.7zM66.0 672.5h45.7v2.05h-45.7zM111.7 672.5h45.7v2.05h-45.7zM522.7 672.5h45.7v2.05h-45.7zM157.3 676.5h45.7v2.05h-45.7zM157.3 680.5h45.7v2.05h-45.7zM66.0 682.5h45.7v2.05h-45.7zM111.7 682.5h45.7v2.05h-45.7zM111.7 690.5h45.7v2.05h-45.7zM111.7 692.5h45.7v2.05h-45.7zM157.3 692.5h45.7v2.05h-45.7zM477.0 696.5h45.7v2.05h-45.7zM66.0 698.5h45.7v2.05h-45.7zM111.7 698.5h45.7v2.05h-45.7zM111.7 704.5h45.7v2.05h-45.7zM111.7 706.5h45.7v2.05h-45.7zM111.7 710.5h45.7v2.05h-45.7zM157.3 710.5h45.7v2.05h-45.7zM66.0 712.5h45.7v2.05h-45.7zM111.7 712.5h45.7v2.05h-45.7zM157.3 714.5h45.7v2.05h-45.7zM568.3 714.5h45.7v2.05h-45.7zM66.0 716.5h45.7v2.05h-45.7zM111.7 716.5h45.7v2.05h-45.7zM66.0 718.5h45.7v2.05h-45.7zM157.3 718.5h45.7v2.05h-45.7zM157.3 720.5h45.7v2.05h-45.7zM66.0 722.5h45.7v2.05h-45.7zM157.3 722.5h45.7v2.05h-45.7zM111.7 730.5h45.7v2.05h-45.7zM66.0 734.5h45.7v2.05h-45.7zM568.3 734.5h45.7v2.05h-45.7zM111.7 736.5h45.7v2.05h-45.7zM157.3 738.5h45.7v2.05h-45.7zM568.3 744.5h45.7v2.05h-45.7zM522.7 752.5h45.7v2.05h-45.7zM248.7 762.5h45.7v2.05h-45.7zM294.3 762.5h45.7v2.05h-45.7zM568.3 762.5h45.7v2.05h-45.7zM248.7 764.5h45.7v2.05h-45.7zM477.0 766.5h45.7v2.05h-45.7zM568.3 766.5h45.7v2.05h-45.7zM477.0 778.6h45.7v2.05h-45.7zM294.3 784.6h45.7v2.05h-45.7zM385.7 784.6h45.7v2.05h-45.7zM203.0 786.6h45.7v2.05h-45.7zM248.7 788.6h45.7v2.05h-45.7zM385.7 790.6h45.7v2.05h-45.7zM431.3 790.6h45.7v2.05h-45.7zM248.7 792.6h45.7v2.05h-45.7zM294.3 792.6h45.7v2.05h-45.7zM203.0 794.6h45.7v2.05h-45.7zM294.3 794.6h45.7v2.05h-45.7zM248.7 796.6h45.7v2.05h-45.7zM294.3 796.6h45.7v2.05h-45.7zM340.0 798.6h45.7v2.05h-45.7zM431.3 798.6h45.7v2.05h-45.7zM203.0 800.6h45.7v2.05h-45.7zM248.7 800.6h45.7v2.05h-45.7zM294.3 800.6h45.7v2.05h-45.7zM568.3 800.6h45.7v2.05h-45.7zM431.3 804.6h45.7v2.05h-45.7zM203.0 806.6h45.7v2.05h-45.7zM522.7 808.6h45.7v2.05h-45.7zM431.3 812.6h45.7v2.05h-45.7zM203.0 814.6h45.7v2.05h-45.7zM248.7 814.6h45.7v2.05h-45.7zM522.7 814.6h45.7v2.05h-45.7zM477.0 816.6h45.7v2.05h-45.7zM522.7 816.6h45.7v2.05h-45.7zM294.3 818.6h45.7v2.05h-45.7zM385.7 818.6h45.7v2.05h-45.7zM431.3 818.6h45.7v2.05h-45.7zM522.7 818.6h45.7v2.05h-45.7zM340.0 822.6h45.7v2.05h-45.7zM431.3 822.6h45.7v2.05h-45.7zM248.7 824.6h45.7v2.05h-45.7zM294.3 824.6h45.7v2.05h-45.7zM385.7 824.6h45.7v2.05h-45.7zM340.0 826.6h45.7v2.05h-45.7zM340.0 828.6h45.7v2.05h-45.7zM431.3 828.6h45.7v2.05h-45.7zM203.0 830.6h45.7v2.05h-45.7zM294.3 830.6h45.7v2.05h-45.7zM477.0 830.6h45.7v2.05h-45.7zM568.3 830.6h45.7v2.05h-45.7zM203.0 832.6h45.7v2.05h-45.7zM568.3 832.6h45.7v2.05h-45.7zM203.0 834.6h45.7v2.05h-45.7zM477.0 834.6h45.7v2.05h-45.7zM522.7 834.6h45.7v2.05h-45.7zM477.0 836.6h45.7v2.05h-45.7zM522.7 836.6h45.7v2.05h-45.7zM568.3 836.6h45.7v2.05h-45.7zM248.7 838.6h45.7v2.05h-45.7zM294.3 838.6h45.7v2.05h-45.7zM340.0 838.6h45.7v2.05h-45.7zM522.7 838.6h45.7v2.05h-45.7zM568.3 838.6h45.7v2.05h-45.7zM203.0 840.6h45.7v2.05h-45.7zM248.7 840.6h45.7v2.05h-45.7zM294.3 840.6h45.7v2.05h-45.7zM431.3 840.6h45.7v2.05h-45.7zM477.0 840.6h45.7v2.05h-45.7zM568.3 840.6h45.7v2.05h-45.7zM203.0 842.6h45.7v2.05h-45.7zM248.7 842.6h45.7v2.05h-45.7zM294.3 842.6h45.7v2.05h-45.7zM431.3 842.6h45.7v2.05h-45.7zM340.0 844.6h45.7v2.05h-45.7zM431.3 844.6h45.7v2.05h-45.7zM431.3 848.6h45.7v2.05h-45.7zM522.7 850.6h45.7v2.05h-45.7zM522.7 856.6h45.7v2.05h-45.7zM568.3 856.6h45.7v2.05h-45.7zM203.0 858.6h45.7v2.05h-45.7zM294.3 858.6h45.7v2.05h-45.7zM248.7 860.6h45.7v2.05h-45.7zM385.7 860.6h45.7v2.05h-45.7zM431.3 860.6h45.7v2.05h-45.7zM477.0 860.6h45.7v2.05h-45.7zM431.3 862.6h45.7v2.05h-45.7zM568.3 862.6h45.7v2.05h-45.7zM385.7 864.6h45.7v2.05h-45.7zM431.3 864.6h45.7v2.05h-45.7zM248.7 868.6h45.7v2.05h-45.7zM203.0 870.6h45.7v2.05h-45.7zM431.3 870.6h45.7v2.05h-45.7zM522.7 874.6h45.7v2.05h-45.7zM568.3 874.6h45.7v2.05h-45.7zM248.7 876.6h45.7v2.05h-45.7zM340.0 876.6h45.7v2.05h-45.7zM385.7 876.6h45.7v2.05h-45.7zM431.3 876.6h45.7v2.05h-45.7zM477.0 876.6h45.7v2.05h-45.7zM248.7 880.6h45.7v2.05h-45.7zM111.7 886.6h45.7v2.05h-45.7zM248.7 886.6h45.7v2.05h-45.7zM294.3 886.6h45.7v2.05h-45.7zM66.0 892.6h45.7v2.05h-45.7zM111.7 892.6h45.7v2.05h-45.7zM66.0 894.6h45.7v2.05h-45.7zM340.0 894.6h45.7v2.05h-45.7zM385.7 894.6h45.7v2.05h-45.7zM111.7 896.6h45.7v2.05h-45.7zM340.0 900.6h45.7v2.05h-45.7zM385.7 900.6h45.7v2.05h-45.7zM66.0 902.6h45.7v2.05h-45.7zM157.3 902.6h45.7v2.05h-45.7zM203.0 902.6h45.7v2.05h-45.7zM340.0 902.6h45.7v2.05h-45.7zM66.0 908.6h45.7v2.05h-45.7zM157.3 910.6h45.7v2.05h-45.7zM66.0 916.6h45.7v2.05h-45.7zM111.7 916.6h45.7v2.05h-45.7zM157.3 918.6h45.7v2.05h-45.7zM111.7 922.6h45.7v2.05h-45.7zM66.0 924.6h45.7v2.05h-45.7zM203.0 924.6h45.7v2.05h-45.7zM294.3 924.6h45.7v2.05h-45.7zM340.0 924.6h45.7v2.05h-45.7zM66.0 926.6h45.7v2.05h-45.7zM111.7 926.6h45.7v2.05h-45.7zM66.0 930.6h45.7v2.05h-45.7zM157.3 930.6h45.7v2.05h-45.7zM66.0 932.6h45.7v2.05h-45.7zM111.7 932.6h45.7v2.05h-45.7zM66.0 934.6h45.7v2.05h-45.7zM340.0 934.6h45.7v2.05h-45.7zM385.7 934.6h45.7v2.05h-45.7zM157.3 936.6h45.7v2.05h-45.7zM340.0 936.6h45.7v2.05h-45.7zM66.0 938.6h45.7v2.05h-45.7zM203.0 940.6h45.7v2.05h-45.7zM248.7 940.6h45.7v2.05h-45.7zM294.3 940.6h45.7v2.05h-45.7zM248.7 942.6h45.7v2.05h-45.7zM111.7 944.6h45.7v2.05h-45.7zM157.3 946.6h45.7v2.05h-45.7zM157.3 950.6h45.7v2.05h-45.7zM111.7 954.6h45.7v2.05h-45.7zM66.0 956.6h45.7v2.05h-45.7zM111.7 956.6h45.7v2.05h-45.7zM111.7 958.6h45.7v2.05h-45.7zM385.7 958.6h45.7v2.05h-45.7zM431.3 958.6h45.7v2.05h-45.7zM340.0 960.6h45.7v2.05h-45.7zM111.7 962.6h45.7v2.05h-45.7zM157.3 962.6h45.7v2.05h-45.7zM340.0 962.6h45.7v2.05h-45.7zM385.7 962.6h45.7v2.05h-45.7zM111.7 964.6h45.7v2.05h-45.7zM385.7 964.6h45.7v2.05h-45.7zM431.3 964.6h45.7v2.05h-45.7zM203.0 966.6h45.7v2.05h-45.7zM111.7 970.6h45.7v2.05h-45.7zM157.3 970.6h45.7v2.05h-45.7zM294.3 974.6h45.7v2.05h-45.7zM66.0 976.6h45.7v2.05h-45.7zM111.7 976.6h45.7v2.05h-45.7zM157.3 976.6h45.7v2.05h-45.7zM203.0 976.6h45.7v2.05h-45.7zM157.3 980.6h45.7v2.05h-45.7zM203.0 980.6h45.7v2.05h-45.7zM157.3 990.6h45.7v2.05h-45.7zM66.0 992.6h45.7v2.05h-45.7zM111.7 992.6h45.7v2.05h-45.7z"/>
<path fill="#f9fdca" d="M111.7 542.5h45.7v2.05h-45.7zM477.0 544.5h45.7v2.05h-45.7zM568.3 544.5h45.7v2.05h-45.7zM477.0 546.5h45.7v2.05h-45.7zM66.0 552.5h45.7v2.05h-45.7zM157.3 552.5h45.7v2.05h-45.7zM522.7 552.5h45.7v2.05h-45.7zM568.3 552.5h45.7v2.05h-45.7zM66.0 554.5h45.7v2.05h-45.7zM111.7 554.5h45.7v2.05h-45.7zM66.0 556.5h45.7v2.05h-45.7zM111.7 556.5h45.7v2.05h-45.7zM157.3 558.5h45.7v2.05h-45.7zM477.0 560.5h45.7v2.05h-45.7zM522.7 564.5h45.7v2.05h-45.7zM522.7 568.5h45.7v2.05h-45.7zM568.3 568.5h45.7v2.05h-45.7zM477.0 582.5h45.7v2.05h-45.7zM568.3 582.5h45.7v2.05h-45.7zM568.3 584.5h45.7v2.05h-45.7zM66.0 588.5h45.7v2.05h-45.7zM111.7 588.5h45.7v2.05h-45.7zM66.0 592.5h45.7v2.05h-45.7zM111.7 592.5h45.7v2.05h-45.7zM385.7 592.5h45.7v2.05h-45.7zM340.0 594.5h45.7v2.05h-45.7zM477.0 594.5h45.7v2.05h-45.7zM522.7 596.5h45.7v2.05h-45.7zM477.0 598.5h45.7v2.05h-45.7zM385.7 600.5h45.7v2.05h-45.7zM340.0 602.5h45.7v2.05h-45.7zM431.3 602.5h45.7v2.05h-45.7zM340.0 604.5h45.7v2.05h-45.7zM431.3 604.5h45.7v2.05h-45.7zM477.0 604.5h45.7v2.05h-45.7zM522.7 604.5h45.7v2.05h-45.7zM568.3 604.5h45.7v2.05h-45.7zM431.3 606.5h45.7v2.05h-45.7zM477.0 606.5h45.7v2.05h-45.7zM66.0 608.5h45.7v2.05h-45.7zM111.7 608.5h45.7v2.05h-45.7zM66.0 610.5h45.7v2.05h-45.7zM157.3 616.5h45.7v2.05h-45.7zM340.0 616.5h45.7v2.05h-45.7zM340.0 618.5h45.7v2.05h-45.7zM431.3 618.5h45.7v2.05h-45.7zM568.3 624.5h45.7v2.05h-45.7zM431.3 628.5h45.7v2.05h-45.7zM203.0 642.5h45.7v2.05h-45.7zM248.7 642.5h45.7v2.05h-45.7zM294.3 644.5h45.7v2.05h-45.7zM568.3 644.5h45.7v2.05h-45.7zM568.3 646.5h45.7v2.05h-45.7zM248.7 652.5h45.7v2.05h-45.7zM294.3 652.5h45.7v2.05h-45.7zM157.3 660.5h45.7v2.05h-45.7zM111.7 662.5h45.7v2.05h-45.7zM203.0 662.5h45.7v2.05h-45.7zM294.3 662.5h45.7v2.05h-45.7zM477.0 664.5h45.7v2.05h-45.7zM568.3 664.5h45.7v2.05h-45.7zM477.0 666.5h45.7v2.05h-45.7zM66.0 668.5h45.7v2.05h-45.7zM111.7 668.5h45.7v2.05h-45.7zM157.3 668.5h45.7v2.05h-45.7zM477.0 668.5h45.7v2.05h-45.7zM66.0 670.5h45.7v2.05h-45.7zM477.0 672.5h45.7v2.05h-45.7zM111.7 676.5h45.7v2.05h-45.7zM522.7 676.5h45.7v2.05h-45.7zM157.3 678.5h45.7v2.05h-45.7zM111.7 680.5h45.7v2.05h-45.7zM157.3 682.5h45.7v2.05h-45.7zM203.0 682.5h45.7v2.05h-45.7zM203.0 684.5h45.7v2.05h-45.7zM66.0 688.5h45.7v2.05h-45.7zM111.7 688.5h45.7v2.05h-45.7zM66.0 690.5h45.7v2.05h-45.7zM157.3 690.5h45.7v2.05h-45.7zM522.7 696.5h45.7v2.05h-45.7zM568.3 696.5h45.7v2.05h-45.7zM157.3 698.5h45.7v2.05h-45.7zM157.3 702.5h45.7v2.05h-45.7zM66.0 704.5h45.7v2.05h-45.7zM157.3 704.5h45.7v2.05h-45.7zM157.3 706.5h45.7v2.05h-45.7zM157.3 708.5h45.7v2.05h-45.7zM66.0 710.5h45.7v2.05h-45.7zM66.0 714.5h45.7v2.05h-45.7zM111.7 714.5h45.7v2.05h-45.7zM66.0 730.5h45.7v2.05h-45.7zM111.7 732.5h45.7v2.05h-45.7zM66.0 736.5h45.7v2.05h-45.7zM111.7 738.5h45.7v2.05h-45.7zM477.0 744.5h45.7v2.05h-45.7zM522.7 744.5h45.7v2.05h-45.7zM568.3 752.5h45.7v2.05h-45.7zM522.7 760.5h45.7v2.05h-45.7zM568.3 760.5h45.7v2.05h-45.7zM203.0 762.5h45.7v2.05h-45.7zM477.0 762.5h45.7v2.05h-45.7zM522.7 762.5h45.7v2.05h-45.7zM203.0 764.5h45.7v2.05h-45.7zM522.7 764.5h45.7v2.05h-45.7zM568.3 764.5h45.7v2.05h-45.7zM294.3 778.6h45.7v2.05h-45.7zM522.7 778.6h45.7v2.05h-45.7zM568.3 778.6h45.7v2.05h-45.7zM203.0 784.6h45.7v2.05h-45.7zM248.7 784.6h45.7v2.05h-45.7zM340.0 784.6h45.7v2.05h-45.7zM431.3 784.6h45.7v2.05h-45.7zM248.7 786.6h45.7v2.05h-45.7zM294.3 786.6h45.7v2.05h-45.7zM385.7 786.6h45.7v2.05h-45.7zM431.3 786.6h45.7v2.05h-45.7zM340.0 788.6h45.7v2.05h-45.7zM385.7 788.6h45.7v2.05h-45.7zM431.3 788.6h45.7v2.05h-45.7zM340.0 790.6h45.7v2.05h-45.7zM340.0 796.6h45.7v2.05h-45.7zM385.7 796.6h45.7v2.05h-45.7zM294.3 798.6h45.7v2.05h-45.7zM340.0 808.6h45.7v2.05h-45.7zM431.3 808.6h45.7v2.05h-45.7zM203.0 816.6h45.7v2.05h-45.7zM568.3 816.6h45.7v2.05h-45.7zM203.0 818.6h45.7v2.05h-45.7zM477.0 818.6h45.7v2.05h-45.7zM203.0 822.6h45.7v2.05h-45.7zM431.3 830.6h45.7v2.05h-45.7zM522.7 830.6h45.7v2.05h-45.7zM248.7 832.6h45.7v2.05h-45.7zM385.7 838.6h45.7v2.05h-45.7zM477.0 838.6h45.7v2.05h-45.7zM340.0 842.6h45.7v2.05h-45.7zM385.7 842.6h45.7v2.05h-45.7zM477.0 842.6h45.7v2.05h-45.7zM522.7 842.6h45.7v2.05h-45.7zM568.3 842.6h45.7v2.05h-45.7zM385.7 844.6h45.7v2.05h-45.7zM477.0 846.6h45.7v2.05h-45.7zM477.0 856.6h45.7v2.05h-45.7zM477.0 858.6h45.7v2.05h-45.7zM522.7 858.6h45.7v2.05h-45.7zM568.3 858.6h45.7v2.05h-45.7zM340.0 860.6h45.7v2.05h-45.7zM477.0 862.6h45.7v2.05h-45.7zM203.0 864.6h45.7v2.05h-45.7zM294.3 864.6h45.7v2.05h-45.7zM340.0 864.6h45.7v2.05h-45.7zM477.0 864.6h45.7v2.05h-45.7zM385.7 866.6h45.7v2.05h-45.7zM340.0 868.6h45.7v2.05h-45.7zM522.7 868.6h45.7v2.05h-45.7zM568.3 868.6h45.7v2.05h-45.7zM477.0 874.6h45.7v2.05h-45.7zM568.3 876.6h45.7v2.05h-45.7zM66.0 878.6h45.7v2.05h-45.7zM111.7 878.6h45.7v2.05h-45.7zM157.3 878.6h45.7v2.05h-45.7zM203.0 880.6h45.7v2.05h-45.7zM477.0 880.6h45.7v2.05h-45.7zM477.0 882.6h45.7v2.05h-45.7zM522.7 882.6h45.7v2.05h-45.7zM111.7 884.6h45.7v2.05h-45.7zM157.3 884.6h45.7v2.05h-45.7zM66.0 886.6h45.7v2.05h-45.7zM157.3 886.6h45.7v2.05h-45.7zM111.7 888.6h45.7v2.05h-45.7zM248.7 890.6h45.7v2.05h-45.7zM157.3 892.6h45.7v2.05h-45.7zM111.7 894.6h45.7v2.05h-45.7zM157.3 894.6h45.7v2.05h-45.7zM66.0 898.6h45.7v2.05h-45.7zM111.7 898.6h45.7v2.05h-45.7zM203.0 898.6h45.7v2.05h-45.7zM248.7 898.6h45.7v2.05h-45.7zM66.0 900.6h45.7v2.05h-45.7zM111.7 902.6h45.7v2.05h-45.7zM294.3 902.6h45.7v2.05h-45.7zM111.7 904.6h45.7v2.05h-45.7zM111.7 908.6h45.7v2.05h-45.7zM157.3 908.6h45.7v2.05h-45.7zM66.0 910.6h45.7v2.05h-45.7zM111.7 910.6h45.7v2.05h-45.7zM248.7 910.6h45.7v2.05h-45.7zM111.7 914.6h45.7v2.05h-45.7zM294.3 914.6h45.7v2.05h-45.7zM66.0 918.6h45.7v2.05h-45.7zM111.7 918.6h45.7v2.05h-45.7zM111.7 920.6h45.7v2.05h-45.7zM157.3 920.6h45.7v2.05h-45.7zM111.7 930.6h45.7v2.05h-45.7zM111.7 934.6h45.7v2.05h-45.7zM66.0 936.6h45.7v2.05h-45.7zM111.7 936.6h45.7v2.05h-45.7zM111.7 938.6h45.7v2.05h-45.7zM157.3 938.6h45.7v2.05h-45.7zM385.7 940.6h45.7v2.05h-45.7zM111.7 942.6h45.7v2.05h-45.7zM157.3 942.6h45.7v2.05h-45.7zM203.0 942.6h45.7v2.05h-45.7zM66.0 944.6h45.7v2.05h-45.7zM157.3 944.6h45.7v2.05h-45.7zM111.7 946.6h45.7v2.05h-45.7zM340.0 948.6h45.7v2.05h-45.7zM431.3 948.6h45.7v2.05h-45.7zM385.7 950.6h45.7v2.05h-45.7zM157.3 952.6h45.7v2.05h-45.7zM431.3 952.6h45.7v2.05h-45.7zM66.0 960.6h45.7v2.05h-45.7zM111.7 960.6h45.7v2.05h-45.7zM157.3 960.6h45.7v2.05h-45.7zM431.3 962.6h45.7v2.05h-45.7zM66.0 964.6h45.7v2.05h-45.7zM157.3 964.6h45.7v2.05h-45.7zM66.0 966.6h45.7v2.05h-45.7zM157.3 966.6h45.7v2.05h-45.7zM66.0 974.6h45.7v2.05h-45.7zM111.7 974.6h45.7v2.05h-45.7zM203.0 974.6h45.7v2.05h-45.7zM111.7 982.6h45.7v2.05h-45.7zM157.3 984.6h45.7v2.05h-45.7zM111.7 990.6h45.7v2.05h-45.7z"/>
<path fill="#fdbf7a" d="M203.0 542.5h45.7v2.05h-45.7zM294.3 542.5h45.7v2.05h-45.7zM203.0 544.5h45.7v2.05h-45.7zM294.3 544.5h45.7v2.05h-45.7zM203.0 546.5h45.7v2.05h-45.7zM248.7 546.5h45.7v2.05h-45.7zM294.3 546.5h45.7v2.05h-45.7zM248.7 548.5h45.7v2.05h-45.7zM294.3 548.5h45.7v2.05h-45.7zM248.7 552.5h45.7v2.05h-45.7zM203.0 554.5h45.7v2.05h-45.7zM203.0 556.5h45.7v2.05h-45.7zM203.0 564.5h45.7v2.05h-45.7zM294.3 566.5h45.7v2.05h-45.7zM294.3 568.5h45.7v2.05h-45.7zM203.0 574.5h45.7v2.05h-45.7zM203.0 576.5h45.7v2.05h-45.7zM294.3 576.5h45.7v2.05h-45.7zM248.7 578.5h45.7v2.05h-45.7zM294.3 578.5h45.7v2.05h-45.7zM248.7 584.5h45.7v2.05h-45.7zM248.7 586.5h45.7v2.05h-45.7zM248.7 588.5h45.7v2.05h-45.7zM294.3 588.5h45.7v2.05h-45.7zM203.0 592.5h45.7v2.05h-45.7zM248.7 592.5h45.7v2.05h-45.7zM203.0 600.5h45.7v2.05h-45.7zM248.7 600.5h45.7v2.05h-45.7zM294.3 602.5h45.7v2.05h-45.7zM248.7 604.5h45.7v2.05h-45.7zM248.7 606.5h45.7v2.05h-45.7zM294.3 606.5h45.7v2.05h-45.7zM203.0 610.5h45.7v2.05h-45.7zM248.7 610.5h45.7v2.05h-45.7zM294.3 610.5h45.7v2.05h-45.7zM203.0 618.5h45.7v2.05h-45.7zM248.7 618.5h45.7v2.05h-45.7zM294.3 618.5h45.7v2.05h-45.7zM294.3 620.5h45.7v2.05h-45.7zM248.7 622.5h45.7v2.05h-45.7zM294.3 622.5h45.7v2.05h-45.7zM203.0 628.5h45.7v2.05h-45.7zM294.3 628.5h45.7v2.05h-45.7zM203.0 634.5h45.7v2.05h-45.7zM203.0 636.5h45.7v2.05h-45.7zM203.0 640.5h45.7v2.05h-45.7zM385.7 654.5h45.7v2.05h-45.7zM340.0 658.5h45.7v2.05h-45.7zM340.0 662.5h45.7v2.05h-45.7zM431.3 666.5h45.7v2.05h-45.7zM431.3 668.5h45.7v2.05h-45.7zM431.3 672.5h45.7v2.05h-45.7zM385.7 680.5h45.7v2.05h-45.7zM385.7 688.5h45.7v2.05h-45.7zM431.3 690.5h45.7v2.05h-45.7zM340.0 692.5h45.7v2.05h-45.7zM385.7 694.5h45.7v2.05h-45.7zM385.7 696.5h45.7v2.05h-45.7zM385.7 702.5h45.7v2.05h-45.7zM431.3 708.5h45.7v2.05h-45.7zM385.7 722.5h45.7v2.05h-45.7zM431.3 722.5h45.7v2.05h-45.7zM294.3 730.5h45.7v2.05h-45.7zM66.0 756.5h45.7v2.05h-45.7zM66.0 758.5h45.7v2.05h-45.7zM203.0 758.5h45.7v2.05h-45.7zM111.7 772.6h45.7v2.05h-45.7zM157.3 782.6h45.7v2.05h-45.7zM66.0 790.6h45.7v2.05h-45.7zM66.0 796.6h45.7v2.05h-45.7zM66.0 800.6h45.7v2.05h-45.7zM66.0 802.6h45.7v2.05h-45.7zM157.3 802.6h45.7v2.05h-45.7zM66.0 804.6h45.7v2.05h-45.7zM157.3 804.6h45.7v2.05h-45.7zM157.3 808.6h45.7v2.05h-45.7zM66.0 814.6h45.7v2.05h-45.7zM157.3 820.6h45.7v2.05h-45.7zM111.7 824.6h45.7v2.05h-45.7zM157.3 824.6h45.7v2.05h-45.7zM66.0 828.6h45.7v2.05h-45.7zM111.7 828.6h45.7v2.05h-45.7zM111.7 830.6h45.7v2.05h-45.7zM66.0 832.6h45.7v2.05h-45.7zM111.7 832.6h45.7v2.05h-45.7zM66.0 834.6h45.7v2.05h-45.7zM111.7 834.6h45.7v2.05h-45.7zM111.7 840.6h45.7v2.05h-45.7zM66.0 848.6h45.7v2.05h-45.7zM111.7 848.6h45.7v2.05h-45.7zM111.7 850.6h45.7v2.05h-45.7zM157.3 850.6h45.7v2.05h-45.7zM66.0 854.6h45.7v2.05h-45.7zM66.0 860.6h45.7v2.05h-45.7zM66.0 864.6h45.7v2.05h-45.7zM111.7 864.6h45.7v2.05h-45.7zM66.0 872.6h45.7v2.05h-45.7zM111.7 872.6h45.7v2.05h-45.7zM157.3 874.6h45.7v2.05h-45.7zM477.0 888.6h45.7v2.05h-45.7zM568.3 890.6h45.7v2.05h-45.7zM522.7 898.6h45.7v2.05h-45.7zM568.3 898.6h45.7v2.05h-45.7zM522.7 900.6h45.7v2.05h-45.7zM568.3 900.6h45.7v2.05h-45.7zM568.3 910.6h45.7v2.05h-45.7zM477.0 914.6h45.7v2.05h-45.7zM568.3 914.6h45.7v2.05h-45.7zM522.7 918.6h45.7v2.05h-45.7zM477.0 920.6h45.7v2.05h-45.7zM522.7 922.6h45.7v2.05h-45.7zM568.3 922.6h45.7v2.05h-45.7zM568.3 924.6h45.7v2.05h-45.7zM477.0 934.6h45.7v2.05h-45.7zM568.3 934.6h45.7v2.05h-45.7zM477.0 938.6h45.7v2.05h-45.7zM522.7 944.6h45.7v2.05h-45.7zM568.3 944.6h45.7v2.05h-45.7zM568.3 948.6h45.7v2.05h-45.7zM522.7 954.6h45.7v2.05h-45.7zM477.0 956.6h45.7v2.05h-45.7zM522.7 956.6h45.7v2.05h-45.7zM568.3 956.6h45.7v2.05h-45.7zM568.3 960.6h45.7v2.05h-45.7zM522.7 962.6h45.7v2.05h-45.7zM568.3 962.6h45.7v2.05h-45.7zM477.0 964.6h45.7v2.05h-45.7zM340.0 966.6h45.7v2.05h-45.7zM477.0 968.6h45.7v2.05h-45.7zM477.0 970.6h45.7v2.05h-45.7zM477.0 972.6h45.7v2.05h-45.7zM522.7 974.6h45.7v2.05h-45.7zM568.3 976.6h45.7v2.05h-45.7zM477.0 978.6h45.7v2.05h-45.7zM385.7 982.6h45.7v2.05h-45.7zM385.7 984.6h45.7v2.05h-45.7zM431.3 984.6h45.7v2.05h-45.7zM477.0 986.6h45.7v2.05h-45.7zM522.7 986.6h45.7v2.05h-45.7zM568.3 986.6h45.7v2.05h-45.7zM522.7 990.6h45.7v2.05h-45.7zM568.3 990.6h45.7v2.05h-45.7zM431.3 992.6h45.7v2.05h-45.7z"/>
<path fill="#fdae6f" d="M248.7 542.5h45.7v2.05h-45.7zM203.0 550.5h45.7v2.05h-45.7zM203.0 558.5h45.7v2.05h-45.7zM294.3 558.5h45.7v2.05h-45.7zM203.0 560.5h45.7v2.05h-45.7zM248.7 560.5h45.7v2.05h-45.7zM294.3 560.5h45.7v2.05h-45.7zM203.0 562.5h45.7v2.05h-45.7zM294.3 562.5h45.7v2.05h-45.7zM203.0 568.5h45.7v2.05h-45.7zM248.7 568.5h45.7v2.05h-45.7zM203.0 570.5h45.7v2.05h-45.7zM203.0 578.5h45.7v2.05h-45.7zM248.7 580.5h45.7v2.05h-45.7zM248.7 582.5h45.7v2.05h-45.7zM294.3 584.5h45.7v2.05h-45.7zM203.0 586.5h45.7v2.05h-45.7zM203.0 588.5h45.7v2.05h-45.7zM294.3 592.5h45.7v2.05h-45.7zM248.7 594.5h45.7v2.05h-45.7zM203.0 596.5h45.7v2.05h-45.7zM248.7 596.5h45.7v2.05h-45.7zM248.7 598.5h45.7v2.05h-45.7zM203.0 604.5h45.7v2.05h-45.7zM294.3 604.5h45.7v2.05h-45.7zM203.0 620.5h45.7v2.05h-45.7zM522.7 652.5h45.7v2.05h-45.7zM385.7 660.5h45.7v2.05h-45.7zM340.0 666.5h45.7v2.05h-45.7zM385.7 666.5h45.7v2.05h-45.7zM340.0 668.5h45.7v2.05h-45.7zM385.7 668.5h45.7v2.05h-45.7zM340.0 670.5h45.7v2.05h-45.7zM431.3 670.5h45.7v2.05h-45.7zM340.0 672.5h45.7v2.05h-45.7zM385.7 672.5h45.7v2.05h-45.7zM431.3 680.5h45.7v2.05h-45.7zM340.0 688.5h45.7v2.05h-45.7zM431.3 688.5h45.7v2.05h-45.7zM431.3 696.5h45.7v2.05h-45.7zM431.3 698.5h45.7v2.05h-45.7zM431.3 700.5h45.7v2.05h-45.7zM340.0 702.5h45.7v2.05h-45.7zM340.0 708.5h45.7v2.05h-45.7zM385.7 708.5h45.7v2.05h-45.7zM340.0 710.5h45.7v2.05h-45.7zM385.7 710.5h45.7v2.05h-45.7zM431.3 710.5h45.7v2.05h-45.7zM385.7 712.5h45.7v2.05h-45.7zM431.3 712.5h45.7v2.05h-45.7zM340.0 722.5h45.7v2.05h-45.7zM340.0 724.5h45.7v2.05h-45.7zM431.3 724.5h45.7v2.05h-45.7zM248.7 758.5h45.7v2.05h-45.7zM157.3 772.6h45.7v2.05h-45.7zM66.0 782.6h45.7v2.05h-45.7zM111.7 782.6h45.7v2.05h-45.7zM66.0 784.6h45.7v2.05h-45.7zM111.7 784.6h45.7v2.05h-45.7zM157.3 784.6h45.7v2.05h-45.7zM66.0 798.6h45.7v2.05h-45.7zM111.7 804.6h45.7v2.05h-45.7zM66.0 806.6h45.7v2.05h-45.7zM157.3 806.6h45.7v2.05h-45.7zM66.0 808.6h45.7v2.05h-45.7zM111.7 808.6h45.7v2.05h-45.7zM66.0 820.6h45.7v2.05h-45.7zM66.0 822.6h45.7v2.05h-45.7zM111.7 822.6h45.7v2.05h-45.7zM157.3 828.6h45.7v2.05h-45.7zM66.0 830.6h45.7v2.05h-45.7zM157.3 830.6h45.7v2.05h-45.7zM111.7 836.6h45.7v2.05h-45.7zM157.3 840.6h45.7v2.05h-45.7zM111.7 842.6h45.7v2.05h-45.7zM157.3 842.6h45.7v2.05h-45.7zM66.0 852.6h45.7v2.05h-45.7zM157.3 860.6h45.7v2.05h-45.7zM111.7 862.6h45.7v2.05h-45.7zM157.3 864.6h45.7v2.05h-45.7zM66.0 868.6h45.7v2.05h-45.7zM157.3 868.6h45.7v2.05h-45.7zM111.7 870.6h45.7v2.05h-45.7zM66.0 874.6h45.7v2.05h-45.7zM111.7 874.6h45.7v2.05h-45.7zM522.7 888.6h45.7v2.05h-45.7zM568.3 888.6h45.7v2.05h-45.7zM522.7 892.6h45.7v2.05h-45.7zM522.7 896.6h45.7v2.05h-45.7zM568.3 896.6h45.7v2.05h-45.7zM477.0 898.6h45.7v2.05h-45.7zM477.0 900.6h45.7v2.05h-45.7zM522.7 902.6h45.7v2.05h-45.7zM568.3 902.6h45.7v2.05h-45.7zM568.3 908.6h45.7v2.05h-45.7zM522.7 910.6h45.7v2.05h-45.7zM522.7 912.6h45.7v2.05h-45.7zM568.3 916.6h45.7v2.05h-45.7zM477.0 918.6h45.7v2.05h-45.7zM568.3 918.6h45.7v2.05h-45.7zM477.0 922.6h45.7v2.05h-45.7zM522.7 924.6h45.7v2.05h-45.7zM522.7 930.6h45.7v2.05h-45.7zM568.3 930.6h45.7v2.05h-45.7zM522.7 942.6h45.7v2.05h-45.7zM568.3 942.6h45.7v2.05h-45.7zM477.0 944.6h45.7v2.05h-45.7zM522.7 952.6h45.7v2.05h-45.7zM477.0 960.6h45.7v2.05h-45.7zM522.7 960.6h45.7v2.05h-45.7zM477.0 962.6h45.7v2.05h-45.7zM568.3 974.6h45.7v2.05h-45.7zM477.0 976.6h45.7v2.05h-45.7zM522.7 976.6h45.7v2.05h-45.7zM522.7 980.6h45.7v2.05h-45.7zM568.3 980.6h45.7v2.05h-45.7zM340.0 982.6h45.7v2.05h-45.7zM431.3 982.6h45.7v2.05h-45.7zM477.0 988.6h45.7v2.05h-45.7zM522.7 988.6h45.7v2.05h-45.7zM477.0 990.6h45.7v2.05h-45.7zM477.0 992.6h45.7v2.05h-45.7zM522.7 992.6h45.7v2.05h-45.7zM568.3 992.6h45.7v2.05h-45.7zM568.3 994.6h45.7v2.05h-45.7z"/>
<path fill="#ecf8e1" d="M477.0 542.5h45.7v2.05h-45.7zM157.3 544.5h45.7v2.05h-45.7zM385.7 544.5h45.7v2.05h-45.7zM431.3 544.5h45.7v2.05h-45.7zM477.0 548.5h45.7v2.05h-45.7zM568.3 548.5h45.7v2.05h-45.7zM66.0 550.5h45.7v2.05h-45.7zM385.7 550.5h45.7v2.05h-45.7zM385.7 552.5h45.7v2.05h-45.7zM431.3 552.5h45.7v2.05h-45.7zM340.0 554.5h45.7v2.05h-45.7zM385.7 554.5h45.7v2.05h-45.7zM431.3 554.5h45.7v2.05h-45.7zM340.0 556.5h45.7v2.05h-45.7zM477.0 558.5h45.7v2.05h-45.7zM568.3 558.5h45.7v2.05h-45.7zM568.3 560.5h45.7v2.05h-45.7zM66.0 562.5h45.7v2.05h-45.7zM431.3 562.5h45.7v2.05h-45.7zM522.7 562.5h45.7v2.05h-45.7zM66.0 564.5h45.7v2.05h-45.7zM385.7 564.5h45.7v2.05h-45.7zM477.0 564.5h45.7v2.05h-45.7zM431.3 568.5h45.7v2.05h-45.7zM522.7 570.5h45.7v2.05h-45.7zM431.3 572.5h45.7v2.05h-45.7zM340.0 574.5h45.7v2.05h-45.7zM340.0 576.5h45.7v2.05h-45.7zM477.0 576.5h45.7v2.05h-45.7zM522.7 576.5h45.7v2.05h-45.7zM66.0 578.5h45.7v2.05h-45.7zM431.3 578.5h45.7v2.05h-45.7zM568.3 578.5h45.7v2.05h-45.7zM385.7 580.5h45.7v2.05h-45.7zM66.0 582.5h45.7v2.05h-45.7zM111.7 582.5h45.7v2.05h-45.7zM157.3 582.5h45.7v2.05h-45.7zM340.0 582.5h45.7v2.05h-45.7zM431.3 582.5h45.7v2.05h-45.7zM385.7 584.5h45.7v2.05h-45.7zM431.3 584.5h45.7v2.05h-45.7zM340.0 586.5h45.7v2.05h-45.7zM477.0 586.5h45.7v2.05h-45.7zM522.7 586.5h45.7v2.05h-45.7zM568.3 586.5h45.7v2.05h-45.7zM568.3 590.5h45.7v2.05h-45.7zM340.0 592.5h45.7v2.05h-45.7zM431.3 592.5h45.7v2.05h-45.7zM477.0 592.5h45.7v2.05h-45.7zM522.7 592.5h45.7v2.05h-45.7zM568.3 592.5h45.7v2.05h-45.7zM66.0 596.5h45.7v2.05h-45.7zM111.7 596.5h45.7v2.05h-45.7zM157.3 596.5h45.7v2.05h-45.7zM111.7 598.5h45.7v2.05h-45.7zM66.0 600.5h45.7v2.05h-45.7zM111.7 600.5h45.7v2.05h-45.7zM431.3 600.5h45.7v2.05h-45.7zM66.0 606.5h45.7v2.05h-45.7zM111.7 606.5h45.7v2.05h-45.7zM157.3 606.5h45.7v2.05h-45.7zM522.7 606.5h45.7v2.05h-45.7zM111.7 610.5h45.7v2.05h-45.7zM340.0 610.5h45.7v2.05h-45.7zM385.7 610.5h45.7v2.05h-45.7zM431.3 610.5h45.7v2.05h-45.7zM477.0 610.5h45.7v2.05h-45.7zM522.7 610.5h45.7v2.05h-45.7zM477.0 612.5h45.7v2.05h-45.7zM66.0 614.5h45.7v2.05h-45.7zM111.7 614.5h45.7v2.05h-45.7zM157.3 614.5h45.7v2.05h-45.7zM66.0 616.5h45.7v2.05h-45.7zM477.0 618.5h45.7v2.05h-45.7zM522.7 618.5h45.7v2.05h-45.7zM111.7 624.5h45.7v2.05h-45.7zM340.0 624.5h45.7v2.05h-45.7zM431.3 626.5h45.7v2.05h-45.7zM66.0 628.5h45.7v2.05h-45.7zM385.7 628.5h45.7v2.05h-45.7zM385.7 632.5h45.7v2.05h-45.7zM111.7 648.5h45.7v2.05h-45.7zM157.3 648.5h45.7v2.05h-45.7zM203.0 656.5h45.7v2.05h-45.7zM248.7 656.5h45.7v2.05h-45.7zM294.3 656.5h45.7v2.05h-45.7zM203.0 658.5h45.7v2.05h-45.7zM248.7 658.5h45.7v2.05h-45.7zM66.0 662.5h45.7v2.05h-45.7zM248.7 666.5h45.7v2.05h-45.7zM157.3 672.5h45.7v2.05h-45.7zM203.0 672.5h45.7v2.05h-45.7zM522.7 674.5h45.7v2.05h-45.7zM522.7 680.5h45.7v2.05h-45.7zM66.0 684.5h45.7v2.05h-45.7zM66.0 692.5h45.7v2.05h-45.7zM477.0 698.5h45.7v2.05h-45.7zM522.7 698.5h45.7v2.05h-45.7zM568.3 698.5h45.7v2.05h-45.7zM477.0 702.5h45.7v2.05h-45.7zM522.7 702.5h45.7v2.05h-45.7zM477.0 704.5h45.7v2.05h-45.7zM522.7 704.5h45.7v2.05h-45.7zM568.3 704.5h45.7v2.05h-45.7zM66.0 706.5h45.7v2.05h-45.7zM157.3 712.5h45.7v2.05h-45.7zM477.0 712.5h45.7v2.05h-45.7zM568.3 712.5h45.7v2.05h-45.7zM477.0 714.5h45.7v2.05h-45.7zM522.7 714.5h45.7v2.05h-45.7zM157.3 716.5h45.7v2.05h-45.7zM111.7 718.5h45.7v2.05h-45.7zM66.0 720.5h45.7v2.05h-45.7zM111.7 720.5h45.7v2.05h-45.7zM111.7 722.5h45.7v2.05h-45.7zM522.7 724.5h45.7v2.05h-45.7zM111.7 726.5h45.7v2.05h-45.7zM157.3 726.5h45.7v2.05h-45.7zM568.3 732.5h45.7v2.05h-45.7zM157.3 734.5h45.7v2.05h-45.7zM477.0 734.5h45.7v2.05h-45.7zM522.7 734.5h45.7v2.05h-45.7zM568.3 740.5h45.7v2.05h-45.7zM477.0 742.5h45.7v2.05h-45.7zM522.7 742.5h45.7v2.05h-45.7zM568.3 742.5h45.7v2.05h-45.7zM294.3 746.5h45.7v2.05h-45.7zM522.7 746.5h45.7v2.05h-45.7zM522.7 754.5h45.7v2.05h-45.7zM568.3 754.5h45.7v2.05h-45.7zM385.7 758.5h45.7v2.05h-45.7zM294.3 764.5h45.7v2.05h-45.7zM522.7 766.5h45.7v2.05h-45.7zM477.0 768.6h45.7v2.05h-45.7zM522.7 768.6h45.7v2.05h-45.7zM340.0 772.6h45.7v2.05h-45.7zM340.0 778.6h45.7v2.05h-45.7zM431.3 778.6h45.7v2.05h-45.7zM203.0 788.6h45.7v2.05h-45.7zM294.3 788.6h45.7v2.05h-45.7zM385.7 792.6h45.7v2.05h-45.7zM431.3 792.6h45.7v2.05h-45.7zM248.7 794.6h45.7v2.05h-45.7zM385.7 794.6h45.7v2.05h-45.7zM203.0 796.6h45.7v2.05h-45.7zM431.3 796.6h45.7v2.05h-45.7zM385.7 798.6h45.7v2.05h-45.7zM522.7 800.6h45.7v2.05h-45.7zM203.0 802.6h45.7v2.05h-45.7zM248.7 802.6h45.7v2.05h-45.7zM294.3 802.6h45.7v2.05h-45.7zM340.0 802.6h45.7v2.05h-45.7zM385.7 802.6h45.7v2.05h-45.7zM431.3 802.6h45.7v2.05h-45.7zM203.0 804.6h45.7v2.05h-45.7zM340.0 804.6h45.7v2.05h-45.7zM248.7 806.6h45.7v2.05h-45.7zM294.3 806.6h45.7v2.05h-45.7zM340.0 806.6h45.7v2.05h-45.7zM385.7 806.6h45.7v2.05h-45.7zM203.0 808.6h45.7v2.05h-45.7zM248.7 808.6h45.7v2.05h-45.7zM294.3 808.6h45.7v2.05h-45.7zM385.7 808.6h45.7v2.05h-45.7zM477.0 808.6h45.7v2.05h-45.7zM568.3 808.6h45.7v2.05h-45.7zM203.0 810.6h45.7v2.05h-45.7zM294.3 810.6h45.7v2.05h-45.7zM340.0 810.6h45.7v2.05h-45.7zM385.7 810.6h45.7v2.05h-45.7zM431.3 810.6h45.7v2.05h-45.7zM568.3 810.6h45.7v2.05h-45.7zM203.0 812.6h45.7v2.05h-45.7zM248.7 812.6h45.7v2.05h-45.7zM294.3 812.6h45.7v2.05h-45.7zM340.0 812.6h45.7v2.05h-45.7zM385.7 812.6h45.7v2.05h-45.7zM477.0 812.6h45.7v2.05h-45.7zM522.7 812.6h45.7v2.05h-45.7zM568.3 812.6h45.7v2.05h-45.7zM294.3 814.6h45.7v2.05h-45.7zM477.0 814.6h45.7v2.05h-45.7zM385.7 816.6h45.7v2.05h-45.7zM431.3 816.6h45.7v2.05h-45.7zM340.0 818.6h45.7v2.05h-45.7zM568.3 818.6h45.7v2.05h-45.7zM340.0 820.6h45.7v2.05h-45.7zM431.3 820.6h45.7v2.05h-45.7zM385.7 822.6h45.7v2.05h-45.7zM522.7 822.6h45.7v2.05h-45.7zM340.0 824.6h45.7v2.05h-45.7zM431.3 824.6h45.7v2.05h-45.7zM477.0 828.6h45.7v2.05h-45.7zM568.3 828.6h45.7v2.05h-45.7zM294.3 832.6h45.7v2.05h-45.7zM340.0 832.6h45.7v2.05h-45.7zM385.7 832.6h45.7v2.05h-45.7zM522.7 832.6h45.7v2.05h-45.7zM248.7 834.6h45.7v2.05h-45.7zM294.3 834.6h45.7v2.05h-45.7zM568.3 834.6h45.7v2.05h-45.7zM203.0 836.6h45.7v2.05h-45.7zM248.7 836.6h45.7v2.05h-45.7zM203.0 838.6h45.7v2.05h-45.7zM385.7 840.6h45.7v2.05h-45.7zM522.7 840.6h45.7v2.05h-45.7zM203.0 844.6h45.7v2.05h-45.7zM248.7 844.6h45.7v2.05h-45.7zM522.7 846.6h45.7v2.05h-45.7zM568.3 846.6h45.7v2.05h-45.7zM340.0 848.6h45.7v2.05h-45.7zM385.7 848.6h45.7v2.05h-45.7zM203.0 852.6h45.7v2.05h-45.7zM340.0 854.6h45.7v2.05h-45.7zM385.7 854.6h45.7v2.05h-45.7zM431.3 854.6h45.7v2.05h-45.7zM203.0 860.6h45.7v2.05h-45.7zM522.7 860.6h45.7v2.05h-45.7zM203.0 862.6h45.7v2.05h-45.7zM294.3 862.6h45.7v2.05h-45.7zM340.0 862.6h45.7v2.05h-45.7zM385.7 862.6h45.7v2.05h-45.7zM522.7 862.6h45.7v2.05h-45.7zM248.7 864.6h45.7v2.05h-45.7zM203.0 866.6h45.7v2.05h-45.7zM248.7 866.6h45.7v2.05h-45.7zM294.3 866.6h45.7v2.05h-45.7zM203.0 868.6h45.7v2.05h-45.7zM294.3 868.6h45.7v2.05h-45.7zM248.7 870.6h45.7v2.05h-45.7zM340.0 870.6h45.7v2.05h-45.7zM385.7 870.6h45.7v2.05h-45.7zM340.0 872.6h45.7v2.05h-45.7zM385.7 872.6h45.7v2.05h-45.7zM203.0 876.6h45.7v2.05h-45.7zM294.3 876.6h45.7v2.05h-45.7zM66.0 880.6h45.7v2.05h-45.7zM157.3 880.6h45.7v2.05h-45.7zM385.7 880.6h45.7v2.05h-45.7zM66.0 882.6h45.7v2.05h-45.7zM157.3 882.6h45.7v2.05h-45.7zM66.0 888.6h45.7v2.05h-45.7zM157.3 888.6h45.7v2.05h-45.7zM385.7 892.6h45.7v2.05h-45.7zM431.3 892.6h45.7v2.05h-45.7zM431.3 894.6h45.7v2.05h-45.7zM66.0 896.6h45.7v2.05h-45.7zM157.3 896.6h45.7v2.05h-45.7zM431.3 896.6h45.7v2.05h-45.7zM340.0 898.6h45.7v2.05h-45.7zM431.3 898.6h45.7v2.05h-45.7zM431.3 900.6h45.7v2.05h-45.7zM385.7 902.6h45.7v2.05h-45.7zM340.0 906.6h45.7v2.05h-45.7zM385.7 906.6h45.7v2.05h-45.7zM431.3 906.6h45.7v2.05h-45.7zM340.0 908.6h45.7v2.05h-45.7zM385.7 910.6h45.7v2.05h-45.7zM431.3 912.6h45.7v2.05h-45.7zM157.3 916.6h45.7v2.05h-45.7zM66.0 920.6h45.7v2.05h-45.7zM66.0 922.6h45.7v2.05h-45.7zM157.3 922.6h45.7v2.05h-45.7zM111.7 924.6h45.7v2.05h-45.7zM157.3 924.6h45.7v2.05h-45.7zM248.7 924.6h45.7v2.05h-45.7zM157.3 926.6h45.7v2.05h-45.7zM157.3 928.6h45.7v2.05h-45.7zM157.3 932.6h45.7v2.05h-45.7zM157.3 934.6h45.7v2.05h-45.7zM431.3 934.6h45.7v2.05h-45.7zM66.0 946.6h45.7v2.05h-45.7zM157.3 948.6h45.7v2.05h-45.7zM203.0 948.6h45.7v2.05h-45.7zM248.7 948.6h45.7v2.05h-45.7zM385.7 948.6h45.7v2.05h-45.7zM66.0 950.6h45.7v2.05h-45.7zM111.7 950.6h45.7v2.05h-45.7zM66.0 954.6h45.7v2.05h-45.7zM157.3 954.6h45.7v2.05h-45.7zM157.3 956.6h45.7v2.05h-45.7zM66.0 958.6h45.7v2.05h-45.7zM157.3 958.6h45.7v2.05h-45.7zM203.0 958.6h45.7v2.05h-45.7zM340.0 958.6h45.7v2.05h-45.7zM66.0 962.6h45.7v2.05h-45.7zM340.0 964.6h45.7v2.05h-45.7zM248.7 966.6h45.7v2.05h-45.7zM294.3 966.6h45.7v2.05h-45.7zM66.0 968.6h45.7v2.05h-45.7zM157.3 968.6h45.7v2.05h-45.7zM66.0 970.6h45.7v2.05h-45.7zM203.0 972.6h45.7v2.05h-45.7zM248.7 974.6h45.7v2.05h-45.7zM294.3 976.6h45.7v2.05h-45.7zM66.0 980.6h45.7v2.05h-45.7zM111.7 980.6h45.7v2.05h-45.7zM248.7 980.6h45.7v2.05h-45.7zM294.3 980.6h45.7v2.05h-45.7zM66.0 982.6h45.7v2.05h-45.7zM248.7 982.6h45.7v2.05h-45.7zM203.0 984.6h45.7v2.05h-45.7zM248.7 984.6h45.7v2.05h-45.7zM294.3 984.6h45.7v2.05h-45.7zM66.0 986.6h45.7v2.05h-45.7zM111.7 986.6h45.7v2.05h-45.7zM157.3 986.6h45.7v2.05h-45.7zM203.0 988.6h45.7v2.05h-45.7zM248.7 988.6h45.7v2.05h-45.7zM294.3 988.6h45.7v2.05h-45.7zM66.0 990.6h45.7v2.05h-45.7zM203.0 994.6h45.7v2.05h-45.7z"/>
<path fill="#ffffbf" d="M522.7 544.5h45.7v2.05h-45.7zM568.3 546.5h45.7v2.05h-45.7zM111.7 552.5h45.7v2.05h-45.7zM477.0 552.5h45.7v2.05h-45.7zM157.3 554.5h45.7v2.05h-45.7zM477.0 554.5h45.7v2.05h-45.7zM522.7 554.5h45.7v2.05h-45.7zM568.3 554.5h45.7v2.05h-45.7zM66.0 558.5h45.7v2.05h-45.7zM111.7 558.5h45.7v2.05h-45.7zM66.0 560.5h45.7v2.05h-45.7zM111.7 560.5h45.7v2.05h-45.7zM477.0 566.5h45.7v2.05h-45.7zM568.3 566.5h45.7v2.05h-45.7zM477.0 568.5h45.7v2.05h-45.7zM157.3 588.5h45.7v2.05h-45.7zM522.7 588.5h45.7v2.05h-45.7zM66.0 594.5h45.7v2.05h-45.7zM157.3 594.5h45.7v2.05h-45.7zM385.7 594.5h45.7v2.05h-45.7zM431.3 594.5h45.7v2.05h-45.7zM522.7 594.5h45.7v2.05h-45.7zM568.3 594.5h45.7v2.05h-45.7zM431.3 596.5h45.7v2.05h-45.7zM477.0 596.5h45.7v2.05h-45.7zM568.3 596.5h45.7v2.05h-45.7zM340.0 598.5h45.7v2.05h-45.7zM431.3 598.5h45.7v2.05h-45.7zM522.7 598.5h45.7v2.05h-45.7zM385.7 604.5h45.7v2.05h-45.7zM385.7 606.5h45.7v2.05h-45.7zM340.0 608.5h45.7v2.05h-45.7zM385.7 608.5h45.7v2.05h-45.7zM385.7 616.5h45.7v2.05h-45.7zM431.3 616.5h45.7v2.05h-45.7zM340.0 620.5h45.7v2.05h-45.7zM385.7 620.5h45.7v2.05h-45.7zM431.3 620.5h45.7v2.05h-45.7zM431.3 622.5h45.7v2.05h-45.7zM522.7 624.5h45.7v2.05h-45.7zM477.0 626.5h45.7v2.05h-45.7zM522.7 626.5h45.7v2.05h-45.7zM568.3 626.5h45.7v2.05h-45.7zM477.0 628.5h45.7v2.05h-45.7zM522.7 628.5h45.7v2.05h-45.7zM568.3 628.5h45.7v2.05h-45.7zM522.7 632.5h45.7v2.05h-45.7zM477.0 638.5h45.7v2.05h-45.7zM568.3 638.5h45.7v2.05h-45.7zM522.7 640.5h45.7v2.05h-45.7zM568.3 642.5h45.7v2.05h-45.7zM203.0 644.5h45.7v2.05h-45.7zM248.7 644.5h45.7v2.05h-45.7zM477.0 644.5h45.7v2.05h-45.7zM203.0 646.5h45.7v2.05h-45.7zM248.7 646.5h45.7v2.05h-45.7zM294.3 646.5h45.7v2.05h-45.7zM477.0 646.5h45.7v2.05h-45.7zM522.7 646.5h45.7v2.05h-45.7zM294.3 648.5h45.7v2.05h-45.7zM203.0 652.5h45.7v2.05h-45.7zM66.0 660.5h45.7v2.05h-45.7zM111.7 660.5h45.7v2.05h-45.7zM568.3 662.5h45.7v2.05h-45.7zM111.7 664.5h45.7v2.05h-45.7zM522.7 664.5h45.7v2.05h-45.7zM568.3 666.5h45.7v2.05h-45.7zM522.7 668.5h45.7v2.05h-45.7zM522.7 670.5h45.7v2.05h-45.7zM568.3 670.5h45.7v2.05h-45.7zM568.3 672.5h45.7v2.05h-45.7zM66.0 676.5h45.7v2.05h-45.7zM477.0 676.5h45.7v2.05h-45.7zM568.3 676.5h45.7v2.05h-45.7zM66.0 680.5h45.7v2.05h-45.7zM248.7 682.5h45.7v2.05h-45.7zM568.3 692.5h45.7v2.05h-45.7zM66.0 694.5h45.7v2.05h-45.7zM157.3 696.5h45.7v2.05h-45.7zM66.0 700.5h45.7v2.05h-45.7zM111.7 700.5h45.7v2.05h-45.7zM157.3 700.5h45.7v2.05h-45.7zM66.0 702.5h45.7v2.05h-45.7zM66.0 708.5h45.7v2.05h-45.7zM111.7 708.5h45.7v2.05h-45.7zM248.7 720.5h45.7v2.05h-45.7zM294.3 720.5h45.7v2.05h-45.7zM203.0 722.5h45.7v2.05h-45.7zM248.7 722.5h45.7v2.05h-45.7zM248.7 730.5h45.7v2.05h-45.7zM157.3 736.5h45.7v2.05h-45.7zM66.0 738.5h45.7v2.05h-45.7zM111.7 740.5h45.7v2.05h-45.7zM157.3 740.5h45.7v2.05h-45.7zM431.3 750.5h45.7v2.05h-45.7zM477.0 752.5h45.7v2.05h-45.7zM248.7 754.5h45.7v2.05h-45.7zM477.0 760.5h45.7v2.05h-45.7zM477.0 764.5h45.7v2.05h-45.7zM248.7 766.5h45.7v2.05h-45.7zM294.3 766.5h45.7v2.05h-45.7zM477.0 776.6h45.7v2.05h-45.7zM203.0 778.6h45.7v2.05h-45.7zM248.7 778.6h45.7v2.05h-45.7zM294.3 780.6h45.7v2.05h-45.7zM340.0 786.6h45.7v2.05h-45.7zM477.0 786.6h45.7v2.05h-45.7zM568.3 786.6h45.7v2.05h-45.7zM522.7 788.6h45.7v2.05h-45.7zM568.3 788.6h45.7v2.05h-45.7zM522.7 792.6h45.7v2.05h-45.7zM477.0 796.6h45.7v2.05h-45.7zM522.7 796.6h45.7v2.05h-45.7zM568.3 796.6h45.7v2.05h-45.7zM203.0 798.6h45.7v2.05h-45.7zM248.7 798.6h45.7v2.05h-45.7zM248.7 816.6h45.7v2.05h-45.7zM294.3 816.6h45.7v2.05h-45.7zM248.7 818.6h45.7v2.05h-45.7zM248.7 822.6h45.7v2.05h-45.7zM294.3 822.6h45.7v2.05h-45.7zM203.0 824.6h45.7v2.05h-45.7zM385.7 828.6h45.7v2.05h-45.7zM340.0 830.6h45.7v2.05h-45.7zM385.7 830.6h45.7v2.05h-45.7zM157.3 832.6h45.7v2.05h-45.7zM431.3 838.6h45.7v2.05h-45.7zM477.0 844.6h45.7v2.05h-45.7zM66.0 850.6h45.7v2.05h-45.7zM248.7 858.6h45.7v2.05h-45.7zM294.3 860.6h45.7v2.05h-45.7zM522.7 864.6h45.7v2.05h-45.7zM568.3 864.6h45.7v2.05h-45.7zM340.0 866.6h45.7v2.05h-45.7zM431.3 866.6h45.7v2.05h-45.7zM522.7 866.6h45.7v2.05h-45.7zM568.3 866.6h45.7v2.05h-45.7zM385.7 868.6h45.7v2.05h-45.7zM431.3 868.6h45.7v2.05h-45.7zM477.0 868.6h45.7v2.05h-45.7zM522.7 876.6h45.7v2.05h-45.7zM294.3 880.6h45.7v2.05h-45.7zM522.7 880.6h45.7v2.05h-45.7zM568.3 880.6h45.7v2.05h-45.7zM248.7 882.6h45.7v2.05h-45.7zM294.3 882.6h45.7v2.05h-45.7zM568.3 882.6h45.7v2.05h-45.7zM66.0 884.6h45.7v2.05h-45.7zM477.0 884.6h45.7v2.05h-45.7zM522.7 884.6h45.7v2.05h-45.7zM203.0 886.6h45.7v2.05h-45.7zM522.7 886.6h45.7v2.05h-45.7zM203.0 888.6h45.7v2.05h-45.7zM248.7 888.6h45.7v2.05h-45.7zM203.0 890.6h45.7v2.05h-45.7zM294.3 890.6h45.7v2.05h-45.7zM203.0 896.6h45.7v2.05h-45.7zM248.7 896.6h45.7v2.05h-45.7zM294.3 896.6h45.7v2.05h-45.7zM157.3 898.6h45.7v2.05h-45.7zM294.3 898.6h45.7v2.05h-45.7zM157.3 900.6h45.7v2.05h-45.7zM294.3 900.6h45.7v2.05h-45.7zM248.7 902.6h45.7v2.05h-45.7zM66.0 904.6h45.7v2.05h-45.7zM157.3 904.6h45.7v2.05h-45.7zM248.7 904.6h45.7v2.05h-45.7zM294.3 904.6h45.7v2.05h-45.7zM248.7 908.6h45.7v2.05h-45.7zM294.3 908.6h45.7v2.05h-45.7zM203.0 910.6h45.7v2.05h-45.7zM294.3 910.6h45.7v2.05h-45.7zM157.3 912.6h45.7v2.05h-45.7zM66.0 914.6h45.7v2.05h-45.7zM157.3 914.6h45.7v2.05h-45.7zM203.0 914.6h45.7v2.05h-45.7zM248.7 914.6h45.7v2.05h-45.7zM203.0 918.6h45.7v2.05h-45.7zM248.7 918.6h45.7v2.05h-45.7zM294.3 918.6h45.7v2.05h-45.7zM385.7 936.6h45.7v2.05h-45.7zM431.3 936.6h45.7v2.05h-45.7zM340.0 938.6h45.7v2.05h-45.7zM385.7 938.6h45.7v2.05h-45.7zM431.3 938.6h45.7v2.05h-45.7zM66.0 940.6h45.7v2.05h-45.7zM111.7 940.6h45.7v2.05h-45.7zM157.3 940.6h45.7v2.05h-45.7zM340.0 940.6h45.7v2.05h-45.7zM66.0 942.6h45.7v2.05h-45.7zM294.3 942.6h45.7v2.05h-45.7zM385.7 942.6h45.7v2.05h-45.7zM431.3 942.6h45.7v2.05h-45.7zM340.0 944.6h45.7v2.05h-45.7zM431.3 944.6h45.7v2.05h-45.7zM340.0 946.6h45.7v2.05h-45.7zM431.3 946.6h45.7v2.05h-45.7zM340.0 950.6h45.7v2.05h-45.7zM431.3 950.6h45.7v2.05h-45.7zM66.0 952.6h45.7v2.05h-45.7zM111.7 952.6h45.7v2.05h-45.7zM340.0 952.6h45.7v2.05h-45.7zM385.7 956.6h45.7v2.05h-45.7zM385.7 960.6h45.7v2.05h-45.7zM431.3 960.6h45.7v2.05h-45.7zM111.7 966.6h45.7v2.05h-45.7zM157.3 974.6h45.7v2.05h-45.7zM111.7 984.6h45.7v2.05h-45.7z"/>
<path fill="#fc9e64" d="M203.0 548.5h45.7v2.05h-45.7zM294.3 570.5h45.7v2.05h-45.7zM294.3 580.5h45.7v2.05h-45.7zM294.3 582.5h45.7v2.05h-45.7zM203.0 594.5h45.7v2.05h-45.7zM294.3 594.5h45.7v2.05h-45.7zM203.0 598.5h45.7v2.05h-45.7zM294.3 598.5h45.7v2.05h-45.7zM203.0 606.5h45.7v2.05h-45.7zM248.7 608.5h45.7v2.05h-45.7zM294.3 608.5h45.7v2.05h-45.7zM340.0 660.5h45.7v2.05h-45.7zM431.3 660.5h45.7v2.05h-45.7zM385.7 670.5h45.7v2.05h-45.7zM340.0 678.5h45.7v2.05h-45.7zM385.7 678.5h45.7v2.05h-45.7zM431.3 678.5h45.7v2.05h-45.7zM340.0 680.5h45.7v2.05h-45.7zM340.0 696.5h45.7v2.05h-45.7zM340.0 698.5h45.7v2.05h-45.7zM385.7 698.5h45.7v2.05h-45.7zM385.7 700.5h45.7v2.05h-45.7zM385.7 704.5h45.7v2.05h-45.7zM431.3 704.5h45.7v2.05h-45.7zM431.3 706.5h45.7v2.05h-45.7zM340.0 712.5h45.7v2.05h-45.7zM385.7 716.5h45.7v2.05h-45.7zM431.3 726.5h45.7v2.05h-45.7zM385.7 728.5h45.7v2.05h-45.7zM431.3 728.5h45.7v2.05h-45.7zM66.0 772.6h45.7v2.05h-45.7zM157.3 822.6h45.7v2.05h-45.7zM66.0 824.6h45.7v2.05h-45.7zM66.0 836.6h45.7v2.05h-45.7zM66.0 838.6h45.7v2.05h-45.7zM111.7 838.6h45.7v2.05h-45.7zM66.0 840.6h45.7v2.05h-45.7zM66.0 842.6h45.7v2.05h-45.7zM66.0 844.6h45.7v2.05h-45.7zM111.7 860.6h45.7v2.05h-45.7zM66.0 862.6h45.7v2.05h-45.7zM157.3 862.6h45.7v2.05h-45.7zM111.7 868.6h45.7v2.05h-45.7zM157.3 870.6h45.7v2.05h-45.7zM111.7 876.6h45.7v2.05h-45.7zM157.3 876.6h45.7v2.05h-45.7zM568.3 892.6h45.7v2.05h-45.7zM477.0 896.6h45.7v2.05h-45.7zM477.0 902.6h45.7v2.05h-45.7zM522.7 904.6h45.7v2.05h-45.7zM568.3 904.6h45.7v2.05h-45.7zM522.7 908.6h45.7v2.05h-45.7zM477.0 910.6h45.7v2.05h-45.7zM477.0 912.6h45.7v2.05h-45.7zM568.3 912.6h45.7v2.05h-45.7zM477.0 916.6h45.7v2.05h-45.7zM522.7 916.6h45.7v2.05h-45.7zM477.0 924.6h45.7v2.05h-45.7zM477.0 930.6h45.7v2.05h-45.7zM477.0 932.6h45.7v2.05h-45.7zM477.0 940.6h45.7v2.05h-45.7zM568.3 940.6h45.7v2.05h-45.7zM477.0 942.6h45.7v2.05h-45.7zM477.0 952.6h45.7v2.05h-45.7zM568.3 952.6h45.7v2.05h-45.7zM477.0 954.6h45.7v2.05h-45.7zM568.3 954.6h45.7v2.05h-45.7zM477.0 958.6h45.7v2.05h-45.7zM522.7 958.6h45.7v2.05h-45.7zM568.3 958.6h45.7v2.05h-45.7zM477.0 974.6h45.7v2.05h-45.7zM522.7 984.6h45.7v2.05h-45.7zM568.3 984.6h45.7v2.05h-45.7zM522.7 994.6h45.7v2.05h-45.7z"/>
<path fill="#fff9b6" d="M477.0 556.5h45.7v2.05h-45.7zM157.3 560.5h45.7v2.05h-45.7zM340.0 596.5h45.7v2.05h-45.7zM385.7 596.5h45.7v2.05h-45.7zM385.7 598.5h45.7v2.05h-45.7zM431.3 608.5h45.7v2.05h-45.7zM340.0 622.5h45.7v2.05h-45.7zM385.7 622.5h45.7v2.05h-45.7zM477.0 624.5h45.7v2.05h-45.7zM477.0 630.5h45.7v2.05h-45.7zM522.7 630.5h45.7v2.05h-45.7zM477.0 634.5h45.7v2.05h-45.7zM477.0 636.5h45.7v2.05h-45.7zM568.3 636.5h45.7v2.05h-45.7zM522.7 638.5h45.7v2.05h-45.7zM477.0 640.5h45.7v2.05h-45.7zM477.0 642.5h45.7v2.05h-45.7zM522.7 642.5h45.7v2.05h-45.7zM522.7 644.5h45.7v2.05h-45.7zM203.0 648.5h45.7v2.05h-45.7zM248.7 648.5h45.7v2.05h-45.7zM477.0 648.5h45.7v2.05h-45.7zM248.7 650.5h45.7v2.05h-45.7zM294.3 650.5h45.7v2.05h-45.7zM568.3 652.5h45.7v2.05h-45.7zM522.7 654.5h45.7v2.05h-45.7zM477.0 656.5h45.7v2.05h-45.7zM477.0 658.5h45.7v2.05h-45.7zM203.0 660.5h45.7v2.05h-45.7zM477.0 662.5h45.7v2.05h-45.7zM522.7 662.5h45.7v2.05h-45.7zM522.7 666.5h45.7v2.05h-45.7zM568.3 668.5h45.7v2.05h-45.7zM477.0 670.5h45.7v2.05h-45.7zM66.0 678.5h45.7v2.05h-45.7zM568.3 678.5h45.7v2.05h-45.7zM294.3 682.5h45.7v2.05h-45.7zM248.7 684.5h45.7v2.05h-45.7zM294.3 684.5h45.7v2.05h-45.7zM157.3 688.5h45.7v2.05h-45.7zM203.0 690.5h45.7v2.05h-45.7zM248.7 690.5h45.7v2.05h-45.7zM294.3 690.5h45.7v2.05h-45.7zM111.7 694.5h45.7v2.05h-45.7zM157.3 694.5h45.7v2.05h-45.7zM294.3 696.5h45.7v2.05h-45.7zM111.7 702.5h45.7v2.05h-45.7zM203.0 712.5h45.7v2.05h-45.7zM248.7 712.5h45.7v2.05h-45.7zM294.3 712.5h45.7v2.05h-45.7zM203.0 718.5h45.7v2.05h-45.7zM248.7 718.5h45.7v2.05h-45.7zM294.3 718.5h45.7v2.05h-45.7zM203.0 720.5h45.7v2.05h-45.7zM294.3 722.5h45.7v2.05h-45.7zM203.0 724.5h45.7v2.05h-45.7zM248.7 724.5h45.7v2.05h-45.7zM294.3 724.5h45.7v2.05h-45.7zM66.0 728.5h45.7v2.05h-45.7zM157.3 730.5h45.7v2.05h-45.7zM248.7 732.5h45.7v2.05h-45.7zM294.3 732.5h45.7v2.05h-45.7zM431.3 736.5h45.7v2.05h-45.7zM66.0 740.5h45.7v2.05h-45.7zM340.0 746.5h45.7v2.05h-45.7zM385.7 746.5h45.7v2.05h-45.7zM111.7 748.5h45.7v2.05h-45.7zM385.7 748.5h45.7v2.05h-45.7zM340.0 750.5h45.7v2.05h-45.7zM385.7 750.5h45.7v2.05h-45.7zM385.7 752.5h45.7v2.05h-45.7zM431.3 752.5h45.7v2.05h-45.7zM203.0 754.5h45.7v2.05h-45.7zM294.3 754.5h45.7v2.05h-45.7zM340.0 754.5h45.7v2.05h-45.7zM431.3 754.5h45.7v2.05h-45.7zM248.7 756.5h45.7v2.05h-45.7zM294.3 756.5h45.7v2.05h-45.7zM568.3 756.5h45.7v2.05h-45.7zM157.3 762.5h45.7v2.05h-45.7zM203.0 766.5h45.7v2.05h-45.7zM203.0 770.6h45.7v2.05h-45.7zM477.0 770.6h45.7v2.05h-45.7zM522.7 770.6h45.7v2.05h-45.7zM568.3 770.6h45.7v2.05h-45.7zM203.0 772.6h45.7v2.05h-45.7zM248.7 774.6h45.7v2.05h-45.7zM111.7 776.6h45.7v2.05h-45.7zM294.3 776.6h45.7v2.05h-45.7zM522.7 776.6h45.7v2.05h-45.7zM568.3 776.6h45.7v2.05h-45.7zM203.0 780.6h45.7v2.05h-45.7zM248.7 780.6h45.7v2.05h-45.7zM477.0 780.6h45.7v2.05h-45.7zM522.7 780.6h45.7v2.05h-45.7zM568.3 780.6h45.7v2.05h-45.7zM203.0 782.6h45.7v2.05h-45.7zM248.7 782.6h45.7v2.05h-45.7zM522.7 782.6h45.7v2.05h-45.7zM522.7 786.6h45.7v2.05h-45.7zM477.0 788.6h45.7v2.05h-45.7zM477.0 792.6h45.7v2.05h-45.7zM477.0 794.6h45.7v2.05h-45.7zM522.7 794.6h45.7v2.05h-45.7zM568.3 794.6h45.7v2.05h-45.7zM522.7 798.6h45.7v2.05h-45.7zM522.7 844.6h45.7v2.05h-45.7zM568.3 844.6h45.7v2.05h-45.7zM477.0 866.6h45.7v2.05h-45.7zM203.0 878.6h45.7v2.05h-45.7zM248.7 878.6h45.7v2.05h-45.7zM294.3 878.6h45.7v2.05h-45.7zM477.0 878.6h45.7v2.05h-45.7zM203.0 882.6h45.7v2.05h-45.7zM568.3 884.6h45.7v2.05h-45.7zM477.0 886.6h45.7v2.05h-45.7zM294.3 888.6h45.7v2.05h-45.7zM248.7 894.6h45.7v2.05h-45.7zM294.3 894.6h45.7v2.05h-45.7zM111.7 900.6h45.7v2.05h-45.7zM203.0 900.6h45.7v2.05h-45.7zM203.0 904.6h45.7v2.05h-45.7zM203.0 908.6h45.7v2.05h-45.7zM111.7 912.6h45.7v2.05h-45.7zM203.0 916.6h45.7v2.05h-45.7zM431.3 940.6h45.7v2.05h-45.7zM340.0 942.6h45.7v2.05h-45.7zM385.7 944.6h45.7v2.05h-45.7zM385.7 946.6h45.7v2.05h-45.7zM385.7 952.6h45.7v2.05h-45.7zM340.0 956.6h45.7v2.05h-45.7zM431.3 956.6h45.7v2.05h-45.7zM66.0 972.6h45.7v2.05h-45.7zM157.3 972.6h45.7v2.05h-45.7zM66.0 984.6h45.7v2.05h-45.7z"/>
<path fill="#fff3ac" d="M522.7 556.5h45.7v2.05h-45.7zM568.3 556.5h45.7v2.05h-45.7zM340.0 606.5h45.7v2.05h-45.7zM568.3 630.5h45.7v2.05h-45.7zM522.7 634.5h45.7v2.05h-45.7zM568.3 634.5h45.7v2.05h-45.7zM385.7 636.5h45.7v2.05h-45.7zM522.7 636.5h45.7v2.05h-45.7zM385.7 638.5h45.7v2.05h-45.7zM568.3 640.5h45.7v2.05h-45.7zM431.3 644.5h45.7v2.05h-45.7zM522.7 648.5h45.7v2.05h-45.7zM568.3 648.5h45.7v2.05h-45.7zM203.0 650.5h45.7v2.05h-45.7zM522.7 650.5h45.7v2.05h-45.7zM568.3 650.5h45.7v2.05h-45.7zM477.0 652.5h45.7v2.05h-45.7zM568.3 654.5h45.7v2.05h-45.7zM522.7 656.5h45.7v2.05h-45.7zM568.3 656.5h45.7v2.05h-45.7zM522.7 658.5h45.7v2.05h-45.7zM568.3 658.5h45.7v2.05h-45.7zM248.7 660.5h45.7v2.05h-45.7zM294.3 660.5h45.7v2.05h-45.7zM477.0 660.5h45.7v2.05h-45.7zM111.7 678.5h45.7v2.05h-45.7zM477.0 678.5h45.7v2.05h-45.7zM522.7 678.5h45.7v2.05h-45.7zM248.7 686.5h45.7v2.05h-45.7zM294.3 686.5h45.7v2.05h-45.7zM203.0 688.5h45.7v2.05h-45.7zM248.7 692.5h45.7v2.05h-45.7zM294.3 692.5h45.7v2.05h-45.7zM203.0 694.5h45.7v2.05h-45.7zM248.7 694.5h45.7v2.05h-45.7zM66.0 696.5h45.7v2.05h-45.7zM111.7 696.5h45.7v2.05h-45.7zM203.0 696.5h45.7v2.05h-45.7zM248.7 696.5h45.7v2.05h-45.7zM294.3 698.5h45.7v2.05h-45.7zM248.7 700.5h45.7v2.05h-45.7zM203.0 710.5h45.7v2.05h-45.7zM248.7 710.5h45.7v2.05h-45.7zM294.3 710.5h45.7v2.05h-45.7zM203.0 726.5h45.7v2.05h-45.7zM248.7 726.5h45.7v2.05h-45.7zM294.3 726.5h45.7v2.05h-45.7zM157.3 728.5h45.7v2.05h-45.7zM203.0 730.5h45.7v2.05h-45.7zM203.0 732.5h45.7v2.05h-45.7zM340.0 732.5h45.7v2.05h-45.7zM385.7 732.5h45.7v2.05h-45.7zM294.3 736.5h45.7v2.05h-45.7zM340.0 736.5h45.7v2.05h-45.7zM385.7 736.5h45.7v2.05h-45.7zM203.0 738.5h45.7v2.05h-45.7zM431.3 740.5h45.7v2.05h-45.7zM431.3 742.5h45.7v2.05h-45.7zM157.3 746.5h45.7v2.05h-45.7zM431.3 746.5h45.7v2.05h-45.7zM157.3 748.5h45.7v2.05h-45.7zM203.0 748.5h45.7v2.05h-45.7zM248.7 748.5h45.7v2.05h-45.7zM294.3 748.5h45.7v2.05h-45.7zM340.0 748.5h45.7v2.05h-45.7zM431.3 748.5h45.7v2.05h-45.7zM248.7 752.5h45.7v2.05h-45.7zM385.7 754.5h45.7v2.05h-45.7zM203.0 756.5h45.7v2.05h-45.7zM477.0 756.5h45.7v2.05h-45.7zM477.0 758.5h45.7v2.05h-45.7zM522.7 758.5h45.7v2.05h-45.7zM568.3 758.5h45.7v2.05h-45.7zM111.7 760.5h45.7v2.05h-45.7zM157.3 760.5h45.7v2.05h-45.7zM157.3 766.5h45.7v2.05h-45.7zM157.3 768.6h45.7v2.05h-45.7zM248.7 770.6h45.7v2.05h-45.7zM294.3 770.6h45.7v2.05h-45.7zM203.0 774.6h45.7v2.05h-45.7zM66.0 776.6h45.7v2.05h-45.7zM203.0 776.6h45.7v2.05h-45.7zM66.0 778.6h45.7v2.05h-45.7zM157.3 778.6h45.7v2.05h-45.7zM294.3 782.6h45.7v2.05h-45.7zM477.0 782.6h45.7v2.05h-45.7zM568.3 782.6h45.7v2.05h-45.7zM568.3 790.6h45.7v2.05h-45.7zM157.3 792.6h45.7v2.05h-45.7zM568.3 792.6h45.7v2.05h-45.7zM477.0 798.6h45.7v2.05h-45.7zM568.3 798.6h45.7v2.05h-45.7zM522.7 878.6h45.7v2.05h-45.7zM568.3 878.6h45.7v2.05h-45.7zM203.0 884.6h45.7v2.05h-45.7zM568.3 886.6h45.7v2.05h-45.7zM248.7 892.6h45.7v2.05h-45.7zM203.0 894.6h45.7v2.05h-45.7zM248.7 900.6h45.7v2.05h-45.7zM111.7 906.6h45.7v2.05h-45.7zM157.3 906.6h45.7v2.05h-45.7zM66.0 912.6h45.7v2.05h-45.7zM248.7 912.6h45.7v2.05h-45.7zM294.3 912.6h45.7v2.05h-45.7zM294.3 916.6h45.7v2.05h-45.7zM340.0 954.6h45.7v2.05h-45.7zM385.7 954.6h45.7v2.05h-45.7zM431.3 954.6h45.7v2.05h-45.7zM111.7 972.6h45.7v2.05h-45.7zM431.3 976.6h45.7v2.05h-45.7zM340.0 988.6h45.7v2.05h-45.7zM385.7 988.6h45.7v2.05h-45.7z"/>
<path fill="#e6553b" d="M248.7 562.5h45.7v2.05h-45.7z"/>
<path fill="#fc8d59" d="M203.0 580.5h45.7v2.05h-45.7zM203.0 582.5h45.7v2.05h-45.7zM340.0 700.5h45.7v2.05h-45.7zM340.0 704.5h45.7v2.05h-45.7zM340.0 706.5h45.7v2.05h-45.7zM385.7 706.5h45.7v2.05h-45.7zM340.0 714.5h45.7v2.05h-45.7zM385.7 714.5h45.7v2.05h-45.7zM340.0 716.5h45.7v2.05h-45.7zM431.3 716.5h45.7v2.05h-45.7zM340.0 726.5h45.7v2.05h-45.7zM385.7 726.5h45.7v2.05h-45.7zM340.0 728.5h45.7v2.05h-45.7zM157.3 836.6h45.7v2.05h-45.7zM111.7 844.6h45.7v2.05h-45.7zM157.3 844.6h45.7v2.05h-45.7zM66.0 870.6h45.7v2.05h-45.7zM477.0 892.6h45.7v2.05h-45.7zM522.7 894.6h45.7v2.05h-45.7zM568.3 894.6h45.7v2.05h-45.7zM477.0 904.6h45.7v2.05h-45.7zM522.7 906.6h45.7v2.05h-45.7zM568.3 906.6h45.7v2.05h-45.7zM477.0 908.6h45.7v2.05h-45.7zM522.7 932.6h45.7v2.05h-45.7zM568.3 932.6h45.7v2.05h-45.7zM477.0 982.6h45.7v2.05h-45.7zM477.0 984.6h45.7v2.05h-45.7zM477.0 994.6h45.7v2.05h-45.7z"/>
<path fill="#fee699" d="M248.7 590.5h45.7v2.05h-45.7zM248.7 612.5h45.7v2.05h-45.7zM248.7 614.5h45.7v2.05h-45.7zM294.3 614.5h45.7v2.05h-45.7zM294.3 624.5h45.7v2.05h-45.7zM203.0 626.5h45.7v2.05h-45.7zM294.3 626.5h45.7v2.05h-45.7zM248.7 630.5h45.7v2.05h-45.7zM203.0 632.5h45.7v2.05h-45.7zM248.7 632.5h45.7v2.05h-45.7zM340.0 634.5h45.7v2.05h-45.7zM385.7 634.5h45.7v2.05h-45.7zM431.3 634.5h45.7v2.05h-45.7zM340.0 638.5h45.7v2.05h-45.7zM340.0 640.5h45.7v2.05h-45.7zM385.7 642.5h45.7v2.05h-45.7zM385.7 650.5h45.7v2.05h-45.7zM340.0 656.5h45.7v2.05h-45.7zM385.7 656.5h45.7v2.05h-45.7zM431.3 658.5h45.7v2.05h-45.7zM385.7 674.5h45.7v2.05h-45.7zM431.3 674.5h45.7v2.05h-45.7zM385.7 676.5h45.7v2.05h-45.7zM203.0 680.5h45.7v2.05h-45.7zM203.0 700.5h45.7v2.05h-45.7zM294.3 700.5h45.7v2.05h-45.7zM294.3 702.5h45.7v2.05h-45.7zM203.0 704.5h45.7v2.05h-45.7zM248.7 704.5h45.7v2.05h-45.7zM203.0 708.5h45.7v2.05h-45.7zM294.3 714.5h45.7v2.05h-45.7zM203.0 716.5h45.7v2.05h-45.7zM203.0 734.5h45.7v2.05h-45.7zM248.7 734.5h45.7v2.05h-45.7zM340.0 734.5h45.7v2.05h-45.7zM431.3 734.5h45.7v2.05h-45.7zM248.7 736.5h45.7v2.05h-45.7zM385.7 738.5h45.7v2.05h-45.7zM431.3 738.5h45.7v2.05h-45.7zM294.3 740.5h45.7v2.05h-45.7zM157.3 742.5h45.7v2.05h-45.7zM294.3 742.5h45.7v2.05h-45.7zM248.7 744.5h45.7v2.05h-45.7zM111.7 752.5h45.7v2.05h-45.7zM340.0 752.5h45.7v2.05h-45.7zM111.7 754.5h45.7v2.05h-45.7zM203.0 760.5h45.7v2.05h-45.7zM248.7 760.5h45.7v2.05h-45.7zM66.0 762.5h45.7v2.05h-45.7zM111.7 764.5h45.7v2.05h-45.7zM157.3 764.5h45.7v2.05h-45.7zM66.0 766.5h45.7v2.05h-45.7zM66.0 770.6h45.7v2.05h-45.7zM157.3 770.6h45.7v2.05h-45.7zM66.0 774.6h45.7v2.05h-45.7zM477.0 784.6h45.7v2.05h-45.7zM522.7 784.6h45.7v2.05h-45.7zM568.3 784.6h45.7v2.05h-45.7zM157.3 788.6h45.7v2.05h-45.7zM111.7 818.6h45.7v2.05h-45.7zM157.3 818.6h45.7v2.05h-45.7zM157.3 826.6h45.7v2.05h-45.7zM248.7 830.6h45.7v2.05h-45.7zM157.3 858.6h45.7v2.05h-45.7zM248.7 906.6h45.7v2.05h-45.7zM294.3 906.6h45.7v2.05h-45.7zM568.3 928.6h45.7v2.05h-45.7zM568.3 946.6h45.7v2.05h-45.7zM568.3 964.6h45.7v2.05h-45.7zM385.7 970.6h45.7v2.05h-45.7zM340.0 972.6h45.7v2.05h-45.7zM385.7 972.6h45.7v2.05h-45.7zM385.7 976.6h45.7v2.05h-45.7zM340.0 990.6h45.7v2.05h-45.7zM431.3 990.6h45.7v2.05h-45.7z"/>
<path fill="#f57a4f" d="M203.0 608.5h45.7v2.05h-45.7zM431.3 714.5h45.7v2.05h-45.7zM157.3 838.6h45.7v2.05h-45.7zM66.0 876.6h45.7v2.05h-45.7zM477.0 894.6h45.7v2.05h-45.7zM477.0 906.6h45.7v2.05h-45.7zM522.7 940.6h45.7v2.05h-45.7zM477.0 980.6h45.7v2.05h-45.7zM522.7 982.6h45.7v2.05h-45.7zM568.3 982.6h45.7v2.05h-45.7z"/>
<path fill="#feeca3" d="M248.7 626.5h45.7v2.05h-45.7zM294.3 632.5h45.7v2.05h-45.7zM431.3 636.5h45.7v2.05h-45.7zM431.3 638.5h45.7v2.05h-45.7zM340.0 644.5h45.7v2.05h-45.7zM385.7 644.5h45.7v2.05h-45.7zM431.3 650.5h45.7v2.05h-45.7zM477.0 650.5h45.7v2.05h-45.7zM477.0 654.5h45.7v2.05h-45.7zM431.3 656.5h45.7v2.05h-45.7zM522.7 660.5h45.7v2.05h-45.7zM568.3 660.5h45.7v2.05h-45.7zM248.7 680.5h45.7v2.05h-45.7zM294.3 680.5h45.7v2.05h-45.7zM203.0 686.5h45.7v2.05h-45.7zM248.7 688.5h45.7v2.05h-45.7zM203.0 692.5h45.7v2.05h-45.7zM294.3 694.5h45.7v2.05h-45.7zM203.0 698.5h45.7v2.05h-45.7zM248.7 698.5h45.7v2.05h-45.7zM203.0 702.5h45.7v2.05h-45.7zM248.7 702.5h45.7v2.05h-45.7zM294.3 704.5h45.7v2.05h-45.7zM203.0 714.5h45.7v2.05h-45.7zM248.7 714.5h45.7v2.05h-45.7zM294.3 716.5h45.7v2.05h-45.7zM111.7 728.5h45.7v2.05h-45.7zM431.3 732.5h45.7v2.05h-45.7zM294.3 734.5h45.7v2.05h-45.7zM385.7 734.5h45.7v2.05h-45.7zM203.0 736.5h45.7v2.05h-45.7zM248.7 738.5h45.7v2.05h-45.7zM294.3 738.5h45.7v2.05h-45.7zM248.7 740.5h45.7v2.05h-45.7zM340.0 740.5h45.7v2.05h-45.7zM385.7 740.5h45.7v2.05h-45.7zM203.0 742.5h45.7v2.05h-45.7zM248.7 742.5h45.7v2.05h-45.7zM340.0 742.5h45.7v2.05h-45.7zM385.7 742.5h45.7v2.05h-45.7zM203.0 744.5h45.7v2.05h-45.7zM294.3 744.5h45.7v2.05h-45.7zM340.0 744.5h45.7v2.05h-45.7zM385.7 744.5h45.7v2.05h-45.7zM431.3 744.5h45.7v2.05h-45.7zM111.7 746.5h45.7v2.05h-45.7zM66.0 748.5h45.7v2.05h-45.7zM203.0 750.5h45.7v2.05h-45.7zM248.7 750.5h45.7v2.05h-45.7zM294.3 750.5h45.7v2.05h-45.7zM203.0 752.5h45.7v2.05h-45.7zM294.3 752.5h45.7v2.05h-45.7zM66.0 754.5h45.7v2.05h-45.7zM157.3 754.5h45.7v2.05h-45.7zM522.7 756.5h45.7v2.05h-45.7zM66.0 760.5h45.7v2.05h-45.7zM294.3 760.5h45.7v2.05h-45.7zM111.7 762.5h45.7v2.05h-45.7zM66.0 768.6h45.7v2.05h-45.7zM111.7 768.6h45.7v2.05h-45.7zM203.0 768.6h45.7v2.05h-45.7zM248.7 768.6h45.7v2.05h-45.7zM294.3 768.6h45.7v2.05h-45.7zM248.7 772.6h45.7v2.05h-45.7zM294.3 772.6h45.7v2.05h-45.7zM477.0 772.6h45.7v2.05h-45.7zM157.3 774.6h45.7v2.05h-45.7zM294.3 774.6h45.7v2.05h-45.7zM477.0 774.6h45.7v2.05h-45.7zM522.7 774.6h45.7v2.05h-45.7zM568.3 774.6h45.7v2.05h-45.7zM157.3 776.6h45.7v2.05h-45.7zM248.7 776.6h45.7v2.05h-45.7zM111.7 778.6h45.7v2.05h-45.7zM66.0 788.6h45.7v2.05h-45.7zM111.7 788.6h45.7v2.05h-45.7zM157.3 790.6h45.7v2.05h-45.7zM477.0 790.6h45.7v2.05h-45.7zM522.7 790.6h45.7v2.05h-45.7zM111.7 792.6h45.7v2.05h-45.7zM111.7 856.6h45.7v2.05h-45.7zM157.3 856.6h45.7v2.05h-45.7zM248.7 884.6h45.7v2.05h-45.7zM294.3 884.6h45.7v2.05h-45.7zM203.0 892.6h45.7v2.05h-45.7zM294.3 892.6h45.7v2.05h-45.7zM66.0 906.6h45.7v2.05h-45.7zM203.0 906.6h45.7v2.05h-45.7zM203.0 912.6h45.7v2.05h-45.7zM248.7 916.6h45.7v2.05h-45.7zM111.7 968.6h45.7v2.05h-45.7zM340.0 970.6h45.7v2.05h-45.7zM431.3 970.6h45.7v2.05h-45.7zM431.3 972.6h45.7v2.05h-45.7zM340.0 986.6h45.7v2.05h-45.7zM385.7 986.6h45.7v2.05h-45.7zM431.3 986.6h45.7v2.05h-45.7zM431.3 988.6h45.7v2.05h-45.7zM385.7 990.6h45.7v2.05h-45.7z"/>
<path fill="#b1d4e7" d="M157.3 632.5h45.7v2.05h-45.7zM66.0 644.5h45.7v2.05h-45.7zM111.7 644.5h45.7v2.05h-45.7zM568.3 690.5h45.7v2.05h-45.7zM477.0 710.5h45.7v2.05h-45.7zM522.7 726.5h45.7v2.05h-45.7zM522.7 748.5h45.7v2.05h-45.7zM385.7 762.5h45.7v2.05h-45.7zM203.0 826.6h45.7v2.05h-45.7zM248.7 826.6h45.7v2.05h-45.7zM385.7 928.6h45.7v2.05h-45.7zM203.0 930.6h45.7v2.05h-45.7zM248.7 930.6h45.7v2.05h-45.7z"/>
<path fill="#a1c9e1" d="M477.0 690.5h45.7v2.05h-45.7zM522.7 690.5h45.7v2.05h-45.7zM568.3 726.5h45.7v2.05h-45.7zM203.0 928.6h45.7v2.05h-45.7zM248.7 928.6h45.7v2.05h-45.7zM294.3 928.6h45.7v2.05h-45.7z"/>
<path fill="#91bfdb" d="M385.7 836.6h45.7v2.05h-45.7z"/>
</g>
<rect x="66.0" y="528" width="137.0" height="9.6" fill="#d95f02"/>
<rect x="203.0" y="528" width="137.0" height="9.6" fill="#7570b3"/>
<rect x="340.0" y="528" width="137.0" height="9.6" fill="#1b9e77"/>
<rect x="477.0" y="528" width="137.0" height="9.6" fill="#e7298a"/>
<g class="ab" font-size="13" fill="#000">
<text transform="translate(86.6,999.8) rotate(90)">BR−3</text>
<text transform="translate(132.3,999.8) rotate(90)">BR−1</text>
<text transform="translate(178.0,999.8) rotate(90)">BR−2</text>
<text transform="translate(223.6,999.8) rotate(90)">WR−3</text>
<text transform="translate(269.3,999.8) rotate(90)">WR−1</text>
<text transform="translate(315.0,999.8) rotate(90)">WR−2</text>
<text transform="translate(360.6,999.8) rotate(90)">GR−3</text>
<text transform="translate(406.3,999.8) rotate(90)">GR−1</text>
<text transform="translate(452.0,999.8) rotate(90)">GR−2</text>
<text transform="translate(497.6,999.8) rotate(90)">RR−1</text>
<text font-size="10" transform="translate(544.3,1000.5) rotate(90)">RR−2</text>
<text transform="translate(589.0,999.8) rotate(90)">RR−3</text>
</g>
<path fill="none" stroke="#000" stroke-width="1.3" d="M134.5 528V508H180.2V528M88.8 528V507.5H157.3V508M271.5 528V508H317.2V528M225.8 528V507.5H294.3V508M408.5 528V509.5H454.2V528M362.8 528V505H431.3V509.5M545.5 528V506.5H591.2V528M499.8 528V506H568.3V506.5M397.1 505V484H534.1V506M260.1 507.5V482H465.6V484M123.1 507.5V480H362.8V482"/>
<path fill="none" stroke="#000" stroke-width="1.2" d="M64.8 541.0H60.9V542.0H64.8M60.9 541.5H58.1V543.0H64.8M64.8 545.0H59.8V546.0H64.8M64.8 547.0H60.3V548.0H64.8M60.3 547.5H59.7V549.0H64.8M64.8 550.0H59.7V551.0H64.8M64.8 552.0H60.5V553.0H64.8M60.5 552.5H59.9V554.0H64.8M59.7 550.5H58.4V553.3H59.9M59.7 548.3H57.8V551.9H58.4M64.8 555.0H59.9V556.0H64.8M59.9 555.5H59.0V557.0H64.8M57.8 550.1H57.2V556.3H59.0M59.8 545.5H56.6V553.2H57.2M64.8 544.0H56.0V549.3H56.6M64.8 558.0H59.8V559.0H64.8M56.0 546.7H54.5V558.5H59.8M64.8 562.0H61.3V563.0H64.8M64.8 561.0H60.7V562.5H61.3M64.8 566.0H60.4V567.0H64.8M64.8 565.0H59.8V566.5H60.4M64.8 564.0H58.1V565.8H59.8M64.8 572.0H61.2V573.0H64.8M64.8 571.0H60.6V572.5H61.2M64.8 570.0H60.0V571.8H60.6M64.8 569.0H58.3V570.9H60.0M64.8 568.0H56.4V569.9H58.3M58.1 564.9H55.8V569.0H56.4M64.8 576.0H60.6V577.0H64.8M60.6 576.5H60.0V578.0H64.8M64.8 579.0H61.0V580.0H64.8M60.0 577.3H59.2V579.5H61.0M59.2 578.4H58.4V581.0H64.8M64.8 575.0H57.8V579.7H58.4M64.8 574.0H57.2V577.4H57.8M55.8 566.9H55.2V575.7H57.2M55.2 571.3H54.6V582.0H64.8M64.8 583.0H59.3V584.0H64.8M54.6 576.7H53.9V583.5H59.3M60.7 561.8H52.0V580.1H53.9M64.8 560.0H51.4V570.9H52.0M51.4 565.5H50.1V585.0H64.8M54.5 552.6H46.5V575.2H50.1M64.8 587.0H61.2V588.0H64.8M64.8 586.0H60.6V587.5H61.2M64.8 589.0H59.3V590.0H64.8M64.8 594.0H59.2V595.0H64.8M64.8 596.0H60.7V597.0H64.8M60.7 596.5H59.6V598.0H64.8M59.6 597.3H59.0V599.0H64.8M59.0 598.1H58.4V600.0H64.8M59.2 594.5H57.8V599.1H58.4M64.8 593.0H57.2V596.8H57.8M64.8 602.0H60.8V603.0H64.8M64.8 601.0H60.2V602.5H60.8M57.2 594.9H56.6V601.8H60.2M56.6 598.3H56.0V604.0H64.8M64.8 592.0H55.1V601.2H56.0M55.1 596.6H54.5V605.0H64.8M64.8 591.0H53.9V600.8H54.5M59.3 589.5H53.3V595.9H53.9M53.3 592.7H52.3V606.0H64.8M52.3 599.4H51.7V607.0H64.8M64.8 609.0H60.8V610.0H64.8M64.8 613.0H60.4V614.0H64.8M60.4 613.5H59.4V615.0H64.8M59.4 614.3H58.8V616.0H64.8M64.8 617.0H61.4V618.0H64.8M61.4 617.5H60.4V619.0H64.8M64.8 621.0H61.2V622.0H64.8M64.8 620.0H60.0V621.5H61.2M60.0 620.8H59.4V623.0H64.8M60.4 618.3H58.8V621.9H59.4M58.8 615.1H58.2V620.1H58.8M64.8 612.0H57.6V617.6H58.2M64.8 611.0H57.0V614.8H57.6M57.0 612.9H56.4V624.0H64.8M56.4 618.5H54.6V625.0H64.8M60.8 609.5H54.0V621.7H54.6M64.8 627.0H60.7V628.0H64.8M64.8 626.0H60.1V627.5H60.7M54.0 615.6H53.4V626.8H60.1M64.8 608.0H52.8V621.2H53.4M51.7 603.2H46.7V614.6H52.8M60.6 586.8H44.8V608.9H46.7M64.8 629.0H61.0V630.0H64.8M61.0 629.5H60.4V631.0H64.8M60.4 630.3H57.5V632.0H64.8M44.8 597.8H44.2V631.1H57.5M46.5 563.9H43.6V614.5H44.2M58.1 542.3H43.0V589.2H43.6M64.8 633.0H59.1V634.0H64.8M64.8 635.0H60.3V636.0H64.8M60.3 635.5H59.7V637.0H64.8M59.7 636.3H57.3V638.0H64.8M64.8 646.0H61.1V647.0H64.8M64.8 645.0H60.5V646.5H61.1M64.8 644.0H59.9V645.8H60.5M64.8 643.0H59.3V644.9H59.9M64.8 642.0H58.3V644.0H59.3M64.8 641.0H57.7V643.0H58.3M64.8 640.0H56.9V642.0H57.7M64.8 639.0H56.0V641.0H56.9M64.8 649.0H61.1V650.0H64.8M64.8 648.0H58.4V649.5H61.1M58.4 648.8H57.6V651.0H64.8M56.0 640.0H55.1V649.9H57.6M57.3 637.1H54.5V645.0H55.1M54.5 641.1H53.8V652.0H64.8M59.1 633.5H52.0V646.5H53.8M64.8 653.0H60.4V654.0H64.8M64.8 657.0H61.2V658.0H64.8M64.8 656.0H60.6V657.5H61.2M64.8 659.0H60.8V660.0H64.8M60.6 656.8H59.2V659.5H60.8M59.2 658.2H58.3V661.0H64.8M64.8 664.0H61.4V665.0H64.8M61.4 664.5H60.3V666.0H64.8M64.8 663.0H59.7V665.3H60.3M64.8 662.0H59.1V664.2H59.7M58.3 659.6H56.1V663.1H59.1M64.8 655.0H55.5V661.3H56.1M55.5 658.2H52.0V667.0H64.8M60.4 653.5H50.5V662.6H52.0M64.8 670.0H59.6V671.0H64.8M64.8 674.0H59.5V675.0H64.8M64.8 676.0H60.9V677.0H64.8M60.9 676.5H60.1V678.0H64.8M60.1 677.3H59.5V679.0H64.8M59.5 674.5H58.9V678.2H59.5M64.8 673.0H58.3V676.3H58.9M64.8 672.0H57.7V674.7H58.3M59.6 670.5H57.1V673.4H57.7M64.8 669.0H55.5V671.9H57.1M64.8 680.0H60.1V681.0H64.8M60.1 680.5H59.5V682.0H64.8M55.5 670.5H52.9V681.3H59.5M64.8 668.0H50.4V675.9H52.9M50.5 658.1H46.9V672.0H50.4M64.8 683.0H61.2V684.0H64.8M64.8 685.0H59.0V686.0H64.8M64.8 687.0H60.6V688.0H64.8M64.8 693.0H60.3V694.0H64.8M60.3 693.5H59.1V695.0H64.8M64.8 692.0H58.5V694.3H59.1M64.8 691.0H57.9V693.2H58.5M64.8 690.0H56.2V692.1H57.9M64.8 689.0H55.5V691.1H56.2M64.8 699.0H60.6V700.0H64.8M64.8 698.0H60.0V699.5H60.6M64.8 703.0H60.7V704.0H64.8M64.8 702.0H60.1V703.5H60.7M64.8 701.0H59.5V702.8H60.1M64.8 705.0H60.8V706.0H64.8M59.5 701.9H58.9V705.5H60.8M60.0 698.8H58.3V703.7H58.9M64.8 697.0H57.7V701.3H58.3M57.7 699.1H57.1V707.0H64.8M57.1 703.1H56.5V708.0H64.8M56.5 705.6H55.4V709.0H64.8M64.8 696.0H54.8V707.3H55.4M55.5 690.0H54.2V701.7H54.8M60.6 687.5H53.6V695.9H54.2M59.0 685.5H53.0V691.7H53.6M61.2 683.5H52.4V688.6H53.0M64.8 710.0H61.2V711.0H64.8M52.4 686.1H49.5V710.5H61.2M64.8 715.0H60.9V716.0H64.8M60.9 715.5H60.3V717.0H64.8M64.8 719.0H60.9V720.0H64.8M64.8 718.0H60.3V719.5H60.9M60.3 718.8H57.0V721.0H64.8M60.3 716.3H56.1V719.9H57.0M56.1 718.1H54.6V722.0H64.8M64.8 726.0H61.2V727.0H64.8M64.8 725.0H60.6V726.5H61.2M64.8 724.0H60.0V725.8H60.6M64.8 723.0H59.0V724.9H60.0M64.8 728.0H61.2V729.0H64.8M59.0 724.0H55.0V728.5H61.2M54.6 720.1H54.0V726.3H55.0M64.8 714.0H53.4V723.2H54.0M64.8 713.0H52.8V718.6H53.4M64.8 712.0H50.6V715.8H52.8M49.5 698.3H48.9V713.9H50.6M46.9 665.0H44.5V706.1H48.9M64.8 735.0H60.6V736.0H64.8M64.8 734.0H60.0V735.5H60.6M64.8 733.0H59.0V734.8H60.0M64.8 732.0H58.4V733.9H59.0M64.8 731.0H57.4V733.0H58.4M64.8 730.0H55.8V732.0H57.4M44.5 685.6H41.4V731.0H55.8M64.8 739.0H61.1V740.0H64.8M64.8 742.0H60.6V743.0H64.8M60.6 742.5H60.0V744.0H64.8M64.8 741.0H59.4V743.3H60.0M61.1 739.5H58.5V742.2H59.4M64.8 738.0H57.9V740.9H58.5M64.8 737.0H54.5V739.4H57.9M41.4 708.3H35.8V738.2H54.5M52.0 640.0H31.0V723.3H35.8M64.8 747.0H59.7V748.0H64.8M64.8 749.0H61.1V750.0H64.8M64.8 752.0H60.3V753.0H64.8M64.8 751.0H59.7V752.5H60.3M61.1 749.5H59.1V751.8H59.7M59.7 747.5H58.5V750.7H59.1M64.8 746.0H57.9V749.1H58.5M57.9 747.6H57.3V754.0H64.8M64.8 755.0H59.1V756.0H64.8M59.1 755.5H58.0V757.0H64.8M57.3 750.8H56.7V756.3H58.0M64.8 745.0H56.1V753.6H56.7M56.1 749.3H52.9V758.0H64.8M64.8 761.0H61.0V762.0H64.8M64.8 760.0H59.5V761.5H61.0M64.8 759.0H58.9V760.8H59.5M58.9 759.9H57.9V763.0H64.8M64.8 769.1H60.2V770.1H64.8M64.8 768.0H59.6V769.6H60.2M64.8 767.0H59.0V768.8H59.6M64.8 772.1H61.2V773.1H64.8M64.8 771.1H60.6V772.6H61.2M60.6 771.8H60.0V774.1H64.8M59.0 767.9H58.4V772.9H60.0M64.8 766.0H57.8V770.4H58.4M64.8 765.0H56.0V768.2H57.8M64.8 764.0H55.4V766.6H56.0M64.8 776.1H61.3V777.1H64.8M61.3 776.6H59.4V778.1H64.8M64.8 782.1H60.8V783.1H64.8M64.8 781.1H60.2V782.6H60.8M64.8 780.1H59.6V781.8H60.2M64.8 779.1H59.0V780.9H59.6M59.0 780.0H58.4V784.1H64.8M58.4 782.0H57.8V785.1H64.8M59.4 777.3H57.2V783.5H57.8M64.8 775.1H55.4V780.4H57.2M55.4 765.3H54.8V777.7H55.4M64.8 786.1H59.3V787.1H64.8M64.8 789.1H60.2V790.1H64.8M64.8 791.1H60.7V792.1H64.8M60.7 791.6H60.1V793.1H64.8M60.1 792.3H59.5V794.1H64.8M60.2 789.6H57.9V793.2H59.5M64.8 788.1H57.2V791.4H57.9M64.8 802.1H62.0V803.1H64.8M64.8 801.1H61.4V802.6H62.0M64.8 800.1H60.8V801.8H61.4M64.8 799.1H60.2V800.9H60.8M60.2 800.0H59.6V804.1H64.8M64.8 798.1H59.0V802.0H59.6M59.0 800.0H58.4V805.1H64.8M64.8 797.1H57.8V802.5H58.4M64.8 796.1H56.1V799.8H57.8M64.8 795.1H55.5V797.9H56.1M57.2 789.7H52.1V796.5H55.5M59.3 786.6H51.5V793.1H52.1M64.8 806.1H60.7V807.1H64.8M51.5 789.8H47.8V806.6H60.7M64.8 809.1H59.1V810.1H64.8M64.8 812.1H60.3V813.1H64.8M64.8 811.1H59.7V812.6H60.3M59.7 811.8H59.1V814.1H64.8M59.1 809.6H58.5V812.9H59.1M64.8 808.1H57.9V811.2H58.5M64.8 817.1H59.9V818.1H64.8M64.8 816.1H59.3V817.6H59.9M64.8 815.1H58.7V816.8H59.3M64.8 819.1H61.3V820.1H64.8M64.8 822.1H59.9V823.1H64.8M64.8 821.1H58.2V822.6H59.9M64.8 826.1H61.1V827.1H64.8M61.1 826.6H60.5V828.1H64.8M60.5 827.3H59.9V829.1H64.8M59.9 828.2H59.3V830.1H64.8M64.8 832.1H61.1V833.1H64.8M61.1 832.6H60.5V834.1H64.8M64.8 831.1H59.9V833.3H60.5M59.9 832.2H59.3V835.1H64.8M59.3 829.1H58.7V833.6H59.3M58.7 831.4H58.1V836.1H64.8M64.8 825.1H57.5V833.7H58.1M64.8 824.1H56.9V829.4H57.5M64.8 837.1H60.4V838.1H64.8M56.9 826.7H56.3V837.6H60.4M64.8 839.1H59.2V840.1H64.8M56.3 832.1H55.7V839.6H59.2M64.8 841.1H59.1V842.1H64.8M64.8 845.1H60.8V846.1H64.8M64.8 848.1H61.4V849.1H64.8M64.8 847.1H60.8V848.6H61.4M60.8 845.6H60.2V847.8H60.8M64.8 844.1H59.6V846.7H60.2M64.8 843.1H59.0V845.4H59.6M59.0 844.2H58.4V850.1H64.8M58.4 847.1H56.2V851.1H64.8M64.8 857.1H61.5V858.1H64.8M64.8 856.1H60.9V857.6H61.5M64.8 855.1H60.3V856.8H60.9M64.8 854.1H59.7V855.9H60.3M59.7 855.0H59.1V859.1H64.8M64.8 853.1H58.1V857.0H59.1M64.8 860.1H61.3V861.1H64.8M58.1 855.1H56.3V860.6H61.3M64.8 852.1H55.7V857.8H56.3M55.7 854.9H54.3V862.1H64.8M54.3 858.5H53.2V863.1H64.8M56.2 849.1H52.6V860.8H53.2M59.1 841.6H49.7V854.9H52.6M55.7 835.9H49.1V848.3H49.7M64.8 864.1H60.4V865.1H64.8M49.1 842.1H48.2V864.6H60.4M58.2 821.8H47.6V853.3H48.2M61.3 819.6H47.0V837.6H47.6M58.7 815.9H46.1V828.6H47.0M57.9 809.7H45.5V822.2H46.1M64.8 866.1H60.7V867.1H64.8M45.5 816.0H44.0V866.6H60.7M47.8 798.2H43.4V841.3H44.0M54.8 771.5H38.5V819.7H43.4M64.8 868.1H60.5V869.1H64.8M64.8 870.1H59.2V871.1H64.8M60.5 868.6H58.6V870.6H59.2M64.8 872.1H61.3V873.1H64.8M58.6 869.6H56.7V872.6H61.3M64.8 875.1H60.5V876.1H64.8M60.5 875.6H59.9V877.1H64.8M64.8 874.1H59.3V876.3H59.9M59.3 875.2H56.1V878.1H64.8M56.7 871.1H55.0V876.6H56.1M38.5 795.6H37.9V873.9H55.0M57.9 761.5H37.3V834.7H37.9M52.9 753.7H35.0V798.1H37.3M64.8 879.1H61.2V880.1H64.8M61.2 879.6H60.1V881.1H64.8M60.1 880.3H56.8V882.1H64.8M64.8 883.1H60.8V884.1H64.8M64.8 885.1H60.8V886.1H64.8M60.8 883.6H60.2V885.6H60.8M56.8 881.2H55.8V884.6H60.2M64.8 889.1H61.2V890.1H64.8M64.8 888.1H60.6V889.6H61.2M60.6 888.8H60.0V891.1H64.8M60.0 890.0H59.4V892.1H64.8M64.8 887.1H58.8V891.0H59.4M64.8 895.1H59.3V896.1H64.8M59.3 895.6H58.6V897.1H64.8M64.8 900.1H60.1V901.1H64.8M60.1 900.6H59.5V902.1H64.8M64.8 899.1H58.9V901.3H59.5M64.8 898.1H57.6V900.2H58.9M57.6 899.1H57.0V903.1H64.8M57.0 901.1H55.4V904.1H64.8M58.6 896.3H54.4V902.6H55.4M64.8 908.1H61.0V909.1H64.8M64.8 907.1H60.4V908.6H61.0M64.8 906.1H59.2V907.8H60.4M64.8 913.1H61.4V914.1H64.8M64.8 912.1H60.8V913.6H61.4M64.8 911.1H60.2V912.8H60.8M60.2 912.0H59.6V915.1H64.8M64.8 910.1H59.0V913.5H59.6M59.2 907.0H54.2V911.8H59.0M64.8 905.1H53.6V909.4H54.2M64.8 916.1H60.5V917.1H64.8M53.6 907.2H53.0V916.6H60.5M54.4 899.5H52.4V911.9H53.0M64.8 918.1H61.1V919.1H64.8M52.4 905.7H51.8V918.6H61.1M51.8 912.1H51.2V920.1H64.8M51.2 916.1H50.6V921.1H64.8M50.6 918.6H50.0V922.1H64.8M64.8 894.1H49.4V920.3H50.0M64.8 893.1H47.7V907.2H49.4M58.8 889.0H45.7V900.1H47.7M64.8 925.1H60.9V926.1H64.8M60.9 925.6H59.8V927.1H64.8M64.8 924.1H59.2V926.3H59.8M64.8 923.1H58.6V925.2H59.2M64.8 930.1H60.6V931.1H64.8M64.8 929.1H60.0V930.6H60.6M60.0 929.8H59.4V932.1H64.8M64.8 928.1H58.7V931.0H59.4M58.7 929.5H57.4V933.1H64.8M64.8 934.1H59.1V935.1H64.8M64.8 940.1H61.6V941.1H64.8M61.6 940.6H61.0V942.1H64.8M61.0 941.3H60.4V943.1H64.8M60.4 942.2H59.8V944.1H64.8M59.8 943.2H59.2V945.1H64.8M64.8 939.1H58.6V944.1H59.2M64.8 938.1H58.0V941.6H58.6M64.8 937.1H57.4V939.8H58.0M57.4 938.5H56.8V946.1H64.8M64.8 936.1H56.2V942.3H56.8M64.8 948.1H59.4V949.1H64.8M64.8 950.1H61.1V951.1H64.8M59.4 948.6H58.8V950.6H61.1M58.8 949.6H57.6V952.1H64.8M64.8 955.1H59.9V956.1H64.8M64.8 957.1H60.0V958.1H64.8M60.0 957.6H59.4V959.1H64.8M59.9 955.6H58.8V958.3H59.4M64.8 954.1H58.2V957.0H58.8M64.8 953.1H57.6V955.5H58.2M57.6 950.8H57.0V954.3H57.6M64.8 960.1H59.5V961.1H64.8M57.0 952.6H56.4V960.6H59.5M56.4 956.6H51.9V962.1H64.8M64.8 947.1H50.8V959.3H51.9M56.2 939.2H49.5V953.2H50.8M49.5 946.2H48.9V963.1H64.8M59.1 934.6H48.3V954.6H48.9M57.4 931.3H47.6V944.6H48.3M64.8 965.1H61.1V966.1H64.8M64.8 964.1H60.5V965.6H61.1M64.8 968.1H61.2V969.1H64.8M61.2 968.6H60.6V970.1H64.8M60.6 969.3H60.0V971.1H64.8M60.0 970.2H59.4V972.1H64.8M59.4 971.2H58.8V973.1H64.8M64.8 974.1H60.1V975.1H64.8M58.8 972.1H58.2V974.6H60.1M64.8 967.1H57.6V973.4H58.2M64.8 980.1H62.3V981.1H64.8M62.3 980.6H61.9V982.1H64.8M61.9 981.3H61.3V983.1H64.8M64.8 979.1H60.7V982.2H61.3M64.8 978.1H60.1V980.7H60.7M60.1 979.4H59.5V984.1H64.8M64.8 977.1H58.9V981.7H59.5M58.9 979.4H58.3V985.1H64.8M64.8 976.1H57.7V982.3H58.3M57.6 970.2H51.1V979.2H57.7M60.5 964.8H50.5V974.7H51.1M47.6 938.0H44.5V969.8H50.5M58.6 924.1H43.9V953.9H44.5M45.7 894.6H43.3V939.0H43.9M55.8 882.9H42.7V916.8H43.3M64.8 988.1H59.7V989.1H64.8M59.7 988.6H59.1V990.1H64.8M64.8 987.1H58.5V989.3H59.1M64.8 991.1H60.3V992.1H64.8M60.3 991.6H58.5V993.1H64.8M58.5 992.3H57.1V994.1H64.8M58.5 988.2H56.5V993.2H57.1M56.5 990.7H55.9V995.1H64.8M64.8 986.1H55.3V992.9H55.9M55.3 989.5H54.7V996.1H64.8M42.7 899.8H33.0V992.8H54.7M43 565.7V610H23V658H31V681.7M35 775.9V745H19V891H33V946.3M23 634H16V818H19"/>
<g font-family="Liberation Sans,sans-serif" font-size="19" fill="#a8283c">
<text x="18" y="582">1</text>
<text x="18" y="701">2</text>
<text x="18" y="816">3</text>
<text x="18" y="938">4</text>
</g>
<defs><linearGradient id="cb" x1="0" y1="0" x2="0" y2="1">
<stop offset="0.0000" stop-color="#d73027"/>
<stop offset="0.1667" stop-color="#fc8d59"/>
<stop offset="0.3333" stop-color="#fee090"/>
<stop offset="0.5000" stop-color="#ffffbf"/>
<stop offset="0.6667" stop-color="#e0f3f8"/>
<stop offset="0.8333" stop-color="#91bfdb"/>
<stop offset="1.0000" stop-color="#4575b4"/>
</linearGradient></defs>
<rect x="619" y="539" width="9.5" height="129.5" fill="url(#cb)"/>
<g class="ab" font-size="12" fill="#000">
<text x="631" y="548.6">3</text>
<text x="631" y="569.8">2</text>
<text x="631" y="591.0">1</text>
<text x="631" y="612.2">0</text>
<text x="631" y="633.4">−1</text>
<text x="631" y="654.6">−2</text>
<text x="631" y="675.8">−3</text>
</g>
<text class="ab" x="615.5" y="535" font-size="15">Group</text>
<text class="ab" x="615.5" y="702.5" font-size="15">Group</text>
<rect x="618" y="709.5" width="18" height="12.8" fill="#7570b3"/>
<text class="ab" x="638.3" y="720.0" font-size="13">WR</text>
<rect x="618" y="722.2" width="18" height="12.8" fill="#e7298a"/>
<text class="ab" x="638.3" y="732.8" font-size="13">RR</text>
<rect x="618" y="734.9" width="18" height="12.8" fill="#1b9e77"/>
<text class="ab" x="638.3" y="745.6" font-size="13">GR</text>
<rect x="618" y="747.6" width="18" height="12.8" fill="#d95f02"/>
<text class="ab" x="638.3" y="758.4" font-size="13">BR</text>
<path d="M742.5 733.3H1188.0M964.6 510.6V955.3" stroke="#528cdc" stroke-width="3" stroke-dasharray="8 5.3" fill="none"/>
<rect x="742.5" y="510.6" width="445.5" height="444.7" fill="none" stroke="#000" stroke-width="3.6"/>
<path d="M816.0 955.3v9M742.5 881.5h-8.5M964.6 955.3v9M742.5 733.3h-8.5M1113.2 955.3v9M742.5 585.1h-8.5M890.3 955.3v6M742.5 807.4h-5.5M1038.9 955.3v6M742.5 659.2h-5.5" stroke="#000" stroke-width="4" fill="none"/>
<g class="ab" font-size="21" fill="#000">
<text x="816.5" y="986.3" text-anchor="middle">-20</text>
<text x="729.5" y="888.8" text-anchor="end">-20</text>
<text x="965.1" y="986.3" text-anchor="middle">0</text>
<text x="729.5" y="740.6" text-anchor="end">0</text>
<text x="1113.7" y="986.3" text-anchor="middle">20</text>
<text x="729.5" y="592.4" text-anchor="end">20</text>
</g>
<text class="tb" x="965" y="1019" font-size="22" text-anchor="middle" letter-spacing="0.3">PC1 (32.48%)</text>
<text class="tb" transform="translate(699.5,733) rotate(-90)" font-size="22" text-anchor="middle" letter-spacing="0.3">PC2 (28.09%)</text>
<circle cx="794.5" cy="656.2" r="7.5" fill="#6a6aee" stroke="#6a6aee" stroke-opacity="0.6" stroke-width="1"/>
<circle cx="797.4" cy="654.8" r="7.5" fill="#6a6aee" stroke="#6a6aee" stroke-opacity="0.6" stroke-width="1"/>
<circle cx="940.1" cy="828.1" r="7.5" fill="#f86a6a" stroke="#f86a6a" stroke-opacity="0.6" stroke-width="1"/>
<circle cx="945.3" cy="839.3" r="7.5" fill="#f86a6a" stroke="#f86a6a" stroke-opacity="0.6" stroke-width="1"/>
<circle cx="937.9" cy="851.9" r="7.5" fill="#f86a6a" stroke="#f86a6a" stroke-opacity="0.6" stroke-width="1"/>
<circle cx="1030.0" cy="818.5" r="7.5" fill="#5fd35f" stroke="#5fd35f" stroke-opacity="0.6" stroke-width="1"/>
<circle cx="1023.3" cy="828.9" r="7.5" fill="#5fd35f" stroke="#5fd35f" stroke-opacity="0.6" stroke-width="1"/>
<circle cx="1027.8" cy="837.0" r="7.5" fill="#5fd35f" stroke="#5fd35f" stroke-opacity="0.6" stroke-width="1"/>
<circle cx="1086.5" cy="611.8" r="7.5" fill="#c878f0" stroke="#c878f0" stroke-opacity="0.6" stroke-width="1"/>
<circle cx="1091.7" cy="605.8" r="7.5" fill="#c878f0" stroke="#c878f0" stroke-opacity="0.6" stroke-width="1"/>
<circle cx="1098.3" cy="603.6" r="7.5" fill="#c878f0" stroke="#c878f0" stroke-opacity="0.6" stroke-width="1"/>
<circle cx="1213.4" cy="679.0" r="9.2" fill="#6a6aee" stroke="#6a6aee" stroke-opacity="0.45" stroke-width="1.2"/>
<text class="tb" x="1237" y="684.6" font-size="17.5">BR</text>
<circle cx="1213.4" cy="705.8" r="9.2" fill="#f86a6a" stroke="#f86a6a" stroke-opacity="0.45" stroke-width="1.2"/>
<text class="tb" x="1237" y="711.4" font-size="17.5">RR</text>
<circle cx="1213.4" cy="732.6" r="9.2" fill="#5fd35f" stroke="#5fd35f" stroke-opacity="0.45" stroke-width="1.2"/>
<text class="tb" x="1237" y="738.2" font-size="17.5">GR</text>
<circle cx="1213.4" cy="759.4" r="9.2" fill="#c878f0" stroke="#c878f0" stroke-opacity="0.45" stroke-width="1.2"/>
<text class="tb" x="1237" y="765.0" font-size="17.5">WR</text>
</svg>
<p class="ov" style="left:66px;top:382px">农业媒体报道<span style="left:974px;top:-9px">,</span></p>
<p class="ov" style="left:390px;top:542px">农业媒</p>
</body></html>
